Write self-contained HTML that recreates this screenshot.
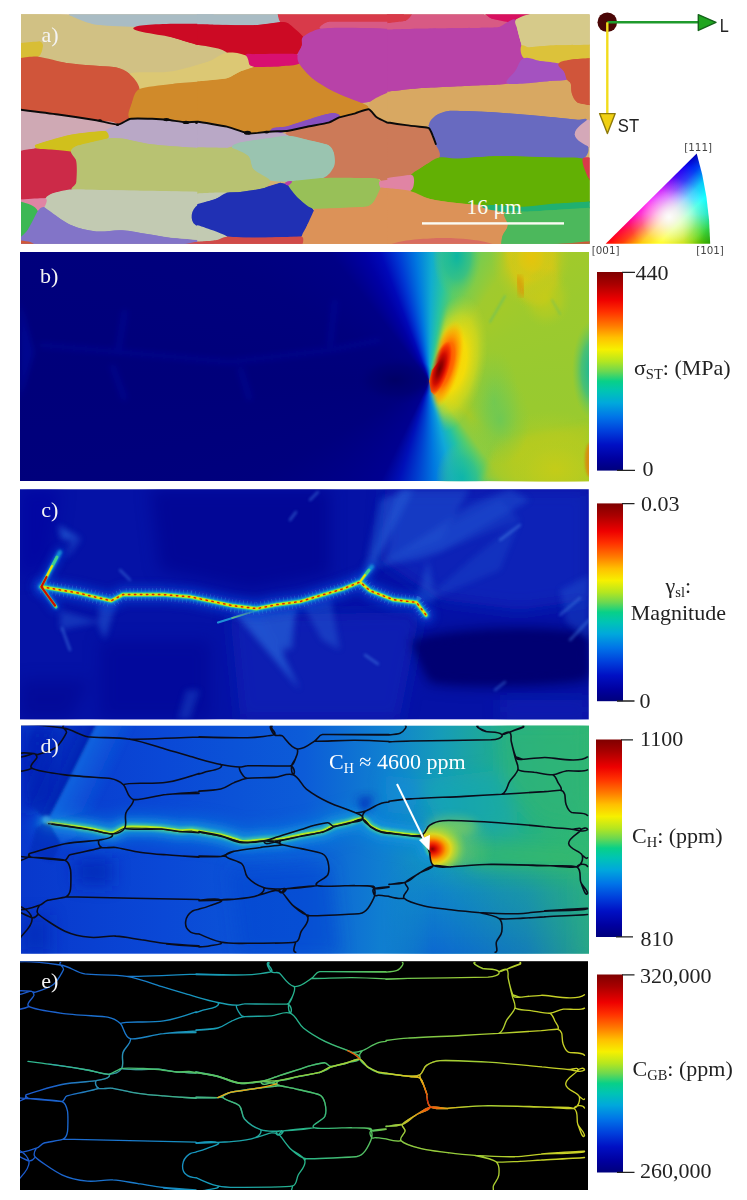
<!DOCTYPE html>
<html lang="en"><head><meta charset="utf-8"><title>Figure</title>
<style>
html,body{margin:0;padding:0;background:#fff;}
body{width:747px;height:1200px;overflow:hidden;position:relative;}
svg{position:absolute;left:0;top:0;display:block;}
.t{font-family:"Liberation Serif","Times New Roman",serif;font-size:22px;fill:#222;}
.sub{font-size:14.5px;}
.s{font-family:"Liberation Sans",Arial,sans-serif;font-size:18.5px;fill:#222;}
.m{font-family:"DejaVu Sans","Liberation Sans",sans-serif;font-size:10.3px;fill:#444;}
</style></head><body>
<div style="position:absolute;left:20px;top:252px;width:568.7px;height:229.4px;background:conic-gradient(from -38deg at 409.4px 129.1px,#000086 0deg,#0000a4 11deg,#0008b8 17deg,#0038d4 24deg,#0078e0 32deg,#10acd0 39deg,#28c4a0 46deg,#58cc68 53deg,#80cc48 62deg,#a0ca2e 72deg,#a2ca2a 83deg,#9cca2e 98deg,#98ca30 128deg,#9aca2e 156deg,#a4ca28 168deg,#8ccc40 181deg,#50cc70 188deg,#20c0a8 196deg,#10a8d8 205deg,#0078e0 215deg,#0040d0 225deg,#0010b8 235deg,#000090 244deg,#00007e 278deg,#00007a 308deg,#00007e 338deg,#000086 360deg);"></div>
<svg width="747" height="1200" viewBox="0 0 747 1200">
<defs>
<linearGradient id="jet" x1="0" y1="0" x2="0" y2="1"><stop offset="0" stop-color="#7f0000"/><stop offset="0.06" stop-color="#a80000"/><stop offset="0.14" stop-color="#ee0000"/><stop offset="0.2" stop-color="#ff3000"/><stop offset="0.27" stop-color="#ff7a00"/><stop offset="0.33" stop-color="#ffc000"/><stop offset="0.39" stop-color="#f6f000"/><stop offset="0.45" stop-color="#b4e620"/><stop offset="0.5" stop-color="#6cd850"/><stop offset="0.55" stop-color="#08d088"/><stop offset="0.6" stop-color="#00c4b4"/><stop offset="0.66" stop-color="#00a8dc"/><stop offset="0.73" stop-color="#0074e8"/><stop offset="0.8" stop-color="#0040dc"/><stop offset="0.87" stop-color="#0010c4"/><stop offset="0.94" stop-color="#0000a0"/><stop offset="1" stop-color="#00007c"/></linearGradient>
</defs>
<rect x="21" y="14.5" width="568.5" height="229.3" fill="#c9b27a"/>
<g id="pa">
<defs><clipPath id="ca"><rect x="21" y="14.5" width="568.5" height="229.3"/></clipPath></defs>
<g clip-path="url(#ca)">
<rect x="21" y="14.5" width="568.5" height="229.3" fill="#d4b070"/>
<path d="M20.0 14.0L69.6 15.3L93.8 24.2L135.7 26.7L172.6 37.4L198.0 45.0L213.3 49.6L213.3 82.7L172.6 83.9L139.5 89.0L129.4 73.8L116.6 67.4L70.9 63.6L37.8 56.7L42.9 45.8L39.8 41.5L20.0 43.2Z" fill="#d1c184" stroke="#d1c184" stroke-width="0.8" stroke-linejoin="round"/>
<path d="M129.4 73.8L172.6 71.2L213.3 59.8L213.3 80.6L172.6 83.9L139.5 89.0Z" fill="#dcc874" stroke="#dcc874" stroke-width="0.8" stroke-linejoin="round"/>
<path d="M69.6 12.7L69.6 15.3L93.8 24.2L135.7 26.7L213.3 24.2L213.3 12.7Z" fill="#a9bcc4" stroke="#a9bcc4" stroke-width="0.8" stroke-linejoin="round"/>
<path d="M135.7 26.7L213.3 24.2L213.3 49.6L198.0 45.0L172.6 37.4Z" fill="#cc0a24" stroke="#cc0a24" stroke-width="0.8" stroke-linejoin="round"/>
<path d="M18.7 43.2L39.8 41.5L42.9 45.8L38.3 56.7L18.7 58.5Z" fill="#d8be36" stroke="#d8be36" stroke-width="0.8" stroke-linejoin="round"/>
<path d="M18.7 58.5L38.3 56.7L70.9 63.6L116.6 67.4L129.4 73.8L139.5 89.0L131.9 103.0L130.6 118.8L117.9 124.6L96.3 120.3L58.1 114.5L18.7 109.4Z" fill="#d0553a" stroke="#d0553a" stroke-width="0.8" stroke-linejoin="round"/>
<path d="M139.5 89.0L172.6 83.9L213.3 80.6L213.3 123.9L185.3 122.1L167.5 119.5L130.6 118.8L131.9 103.0Z" fill="#d08a2a" stroke="#d08a2a" stroke-width="0.8" stroke-linejoin="round"/>
<path d="M18.7 109.4L58.1 114.5L96.3 120.3L117.9 124.6L105.2 131.0L70.9 134.8L35.3 145.0L34.0 148.8L18.7 151.3Z" fill="#cfa9b4" stroke="#cfa9b4" stroke-width="0.8" stroke-linejoin="round"/>
<path d="M117.9 124.6L130.6 118.8L167.5 119.5L185.3 122.1L213.3 123.9L213.3 149.3L172.6 146.2L147.2 143.7L121.7 138.6L107.7 138.6L105.2 131.0Z" fill="#b9a8c6" stroke="#b9a8c6" stroke-width="0.8" stroke-linejoin="round"/>
<path d="M35.3 145.0L70.9 134.8L105.2 131.0L107.7 138.6L76.0 146.2L70.9 151.8L37.8 148.8Z" fill="#d0c01c" stroke="#d0c01c" stroke-width="0.8" stroke-linejoin="round"/>
<path d="M18.7 151.3L35.3 148.8L70.9 151.8L76.5 161.5L76.5 181.9L72.1 189.5L53.1 193.3L45.4 198.4L18.7 199.7Z" fill="#cc2a48" stroke="#cc2a48" stroke-width="0.8" stroke-linejoin="round"/>
<path d="M107.7 138.6L121.7 138.6L147.2 143.7L172.6 146.2L213.3 148.8L213.3 192.5L72.1 189.5L76.5 181.9L76.5 161.5L70.9 151.8L76.0 146.2Z" fill="#b8c272" stroke="#b8c272" stroke-width="0.8" stroke-linejoin="round"/>
<path d="M72.1 189.5L213.3 192.0L213.3 240.9L172.6 237.8L147.2 234.0L121.7 230.2L96.3 231.4L70.9 225.1L44.2 207.3L45.4 198.4L53.1 193.3Z" fill="#c2cab2" stroke="#c2cab2" stroke-width="0.8" stroke-linejoin="round"/>
<path d="M18.7 199.7L45.4 198.4L44.2 207.3L37.8 211.1L18.7 201.7Z" fill="#e084a4" stroke="#e084a4" stroke-width="0.8" stroke-linejoin="round"/>
<path d="M18.7 201.2L37.8 211.1L27.6 230.2L18.7 239.1Z" fill="#3cb854" stroke="#3cb854" stroke-width="0.8" stroke-linejoin="round"/>
<path d="M37.8 211.1L44.2 207.3L70.9 225.1L96.3 231.4L121.7 230.2L147.2 234.0L172.6 238.3L213.3 241.6L213.3 246.7L18.7 246.7L18.7 239.1L27.6 230.2Z" fill="#8274c8" stroke="#8274c8" stroke-width="0.8" stroke-linejoin="round"/>
<path d="M213.3 199.7L198.0 204.7L191.7 214.9L195.5 225.1L213.3 230.7Z" fill="#2030b4" stroke="#2030b4" stroke-width="0.8" stroke-linejoin="round"/>
<path d="M18.7 240.3L30.2 242.1L37.8 246.7L18.7 246.7Z" fill="#d05838" stroke="#d05838" stroke-width="0.8" stroke-linejoin="round"/>
<path d="M180.2 245.4L192.9 242.4L213.3 240.3L213.3 246.7L180.2 246.7Z" fill="#d04a48" stroke="#d04a48" stroke-width="0.8" stroke-linejoin="round"/>
<path d="M197.3 80.9L226.8 78.3L240.2 71.6L253.5 67.0L280.3 66.2L299.1 63.5L312.4 78.3L333.9 91.6L360.6 102.4L368.7 109.0L355.3 113.1L339.8 116.8L333.9 113.1L320.5 115.7L307.1 120.0L288.4 125.9L270.1 131.8L248.2 133.1L226.8 126.4L197.3 120.6Z" fill="#d08a2a" stroke="#d08a2a" stroke-width="0.8" stroke-linejoin="round"/>
<path d="M197.3 12.7L277.6 12.7L277.6 15.3L280.3 22.0L253.5 25.2L197.3 24.2Z" fill="#a9bcc4" stroke="#a9bcc4" stroke-width="0.8" stroke-linejoin="round"/>
<path d="M277.6 12.7L403.5 12.7L403.5 22.6L328.5 22.0L320.5 28.7L303.1 36.8L288.4 23.4L280.3 22.0Z" fill="#d83a4a" stroke="#d83a4a" stroke-width="0.8" stroke-linejoin="round"/>
<path d="M328.5 22.0L403.5 22.0L403.5 29.5L360.6 27.9L320.5 28.7Z" fill="#d85a84" stroke="#d85a84" stroke-width="0.8" stroke-linejoin="round"/>
<path d="M197.3 24.7L253.5 25.2L280.3 22.0L288.4 23.4L303.1 36.8L301.7 46.1L296.4 54.2L253.5 54.2L245.5 55.5L226.8 52.8L197.3 45.1Z" fill="#cc0a24" stroke="#cc0a24" stroke-width="0.8" stroke-linejoin="round"/>
<path d="M245.5 55.5L253.5 54.2L296.4 54.2L299.1 63.5L280.3 66.2L253.5 67.0L249.5 64.9Z" fill="#d81070" stroke="#d81070" stroke-width="0.8" stroke-linejoin="round"/>
<path d="M197.3 45.1L226.8 52.8L209.9 61.1L197.3 65.4Z" fill="#d1c184" stroke="#d1c184" stroke-width="0.8" stroke-linejoin="round"/>
<path d="M197.3 64.9L209.9 61.1L226.8 52.8L245.5 55.5L249.5 64.9L253.5 67.0L240.2 71.6L226.8 78.3L197.3 81.5Z" fill="#dcc874" stroke="#dcc874" stroke-width="0.8" stroke-linejoin="round"/>
<path d="M303.1 36.8L320.5 28.7L360.6 27.9L403.5 29.5L403.5 90.3L387.4 93.0L371.4 101.0L360.6 102.4L333.9 91.6L312.4 78.3L299.1 63.5L297.7 54.2L301.7 46.1Z" fill="#b842a8" stroke="#b842a8" stroke-width="0.8" stroke-linejoin="round"/>
<path d="M270.1 131.8L288.4 125.9L307.1 120.0L320.5 115.7L333.9 113.1L339.8 116.8L328.5 122.7L307.1 127.0L288.4 131.0Z" fill="#8850c0" stroke="#8850c0" stroke-width="0.8" stroke-linejoin="round"/>
<path d="M368.7 109.0L371.4 101.0L387.4 93.0L403.5 90.3L403.5 124.8L387.4 122.4L376.7 117.1Z" fill="#d8a862" stroke="#d8a862" stroke-width="0.8" stroke-linejoin="round"/>
<path d="M285.7 133.7L288.4 131.0L307.1 127.0L328.5 123.0L339.2 117.6L355.3 113.6L368.7 109.6L376.7 117.6L387.4 123.0L403.5 125.4L403.5 178.7L382.1 181.3L379.4 178.7L360.6 177.9L323.2 177.9L333.9 166.6L333.9 153.2L328.5 145.2L307.1 139.8L288.4 135.8Z" fill="#cc7a58" stroke="#cc7a58" stroke-width="0.8" stroke-linejoin="round"/>
<path d="M197.3 121.1L226.8 127.0L248.2 133.7L272.3 131.8L285.7 134.2L288.4 135.8L266.9 138.5L240.2 142.5L226.8 147.9L197.3 147.9Z" fill="#b9a8c6" stroke="#b9a8c6" stroke-width="0.8" stroke-linejoin="round"/>
<path d="M232.1 147.9L240.2 142.5L266.9 138.5L288.4 135.8L307.1 139.8L328.5 145.2L333.9 153.2L333.9 166.6L323.2 177.9L288.4 181.3L269.6 180.0L253.5 169.3L248.2 155.9Z" fill="#9ac4b0" stroke="#9ac4b0" stroke-width="0.8" stroke-linejoin="round"/>
<path d="M197.3 147.3L226.8 147.9L232.1 147.9L248.2 155.9L253.5 169.3L269.6 180.0L264.3 188.0L240.2 192.0L197.3 193.9Z" fill="#b8c272" stroke="#b8c272" stroke-width="0.8" stroke-linejoin="round"/>
<path d="M197.3 193.4L226.8 192.8L216.1 198.7L197.3 204.6Z" fill="#c2cab2" stroke="#c2cab2" stroke-width="0.8" stroke-linejoin="round"/>
<path d="M197.3 204.1L216.1 198.7L226.8 192.8L240.2 192.0L264.3 188.0L280.3 183.2L288.4 185.4L299.1 198.7L313.8 210.8L307.1 225.5L301.7 236.2L253.5 237.6L226.8 236.2L197.3 225.0Z" fill="#2030b4" stroke="#2030b4" stroke-width="0.8" stroke-linejoin="round"/>
<path d="M288.4 185.4L292.4 181.3L323.2 178.1L360.6 178.1L378.0 179.2L380.7 188.0L374.0 201.4L366.0 206.8L315.1 208.9L299.1 198.7Z" fill="#98c058" stroke="#98c058" stroke-width="0.8" stroke-linejoin="round"/>
<path d="M379.9 181.3L403.5 178.1L403.5 189.9L384.7 188.0L380.7 188.0Z" fill="#e084a4" stroke="#e084a4" stroke-width="0.8" stroke-linejoin="round"/>
<path d="M313.8 210.8L315.1 208.9L366.0 206.8L374.0 201.4L380.7 188.0L384.7 188.0L403.5 189.4L403.5 246.9L301.7 246.9L301.7 236.2L307.1 225.5Z" fill="#dc9258" stroke="#dc9258" stroke-width="0.8" stroke-linejoin="round"/>
<path d="M197.3 225.0L226.8 236.2L216.1 240.2L197.3 242.1Z" fill="#c2cab2" stroke="#c2cab2" stroke-width="0.8" stroke-linejoin="round"/>
<path d="M197.3 241.6L216.1 240.2L226.8 236.8L253.5 237.8L301.7 236.8L301.7 246.9L197.3 246.9Z" fill="#d04a48" stroke="#d04a48" stroke-width="0.8" stroke-linejoin="round"/>
<path d="M285.1 183.2L290.0 181.1L292.1 182.1L288.4 185.4Z" fill="#b842a8" stroke="#b842a8" stroke-width="0.8" stroke-linejoin="round"/>
<path d="M387.3 91.6L416.8 88.4L470.3 85.8L507.8 83.6L550.6 80.9L566.7 79.6L570.7 83.6L572.1 94.3L577.4 102.4L593.5 105.6L593.5 120.3L577.4 119.8L550.6 117.1L497.1 112.5L448.9 110.9L435.5 115.7L428.8 125.1L416.8 126.4L387.3 122.4Z" fill="#d8a862" stroke="#d8a862" stroke-width="0.8" stroke-linejoin="round"/>
<path d="M387.3 12.7L411.4 12.7L411.4 15.6L406.1 20.7L387.3 23.6Z" fill="#d83a4a" stroke="#d83a4a" stroke-width="0.8" stroke-linejoin="round"/>
<path d="M387.3 23.1L406.1 20.7L411.4 15.6L411.4 12.7L483.7 12.7L483.7 14.5L491.7 18.8L507.8 22.0L497.1 27.4L416.8 28.7L387.3 30.1Z" fill="#d85a84" stroke="#d85a84" stroke-width="0.8" stroke-linejoin="round"/>
<path d="M483.7 12.7L529.2 12.7L529.2 14.5L515.8 19.4L507.8 22.0L491.7 18.6Z" fill="#d81060" stroke="#d81060" stroke-width="0.8" stroke-linejoin="round"/>
<path d="M387.3 29.5L416.8 28.7L497.1 27.4L507.8 22.0L515.8 19.9L517.2 28.7L521.2 46.1L523.9 58.2L515.8 70.2L507.8 83.6L470.3 85.8L416.8 88.4L387.3 91.6Z" fill="#b842a8" stroke="#b842a8" stroke-width="0.8" stroke-linejoin="round"/>
<path d="M515.8 19.9L529.2 14.0L529.2 12.7L593.5 12.7L593.5 45.1L550.6 45.6L529.2 47.5L522.5 46.4L517.2 28.7Z" fill="#d6ca8a" stroke="#d6ca8a" stroke-width="0.8" stroke-linejoin="round"/>
<path d="M521.2 46.1L529.2 47.5L550.6 45.6L593.5 44.8L593.5 58.4L572.1 59.5L558.7 63.5L539.9 60.9L523.9 58.2Z" fill="#dcc23a" stroke="#dcc23a" stroke-width="0.8" stroke-linejoin="round"/>
<path d="M523.9 58.2L539.9 60.9L558.7 63.5L564.0 71.6L566.7 79.6L550.6 80.9L507.8 83.6L515.8 70.2Z" fill="#a452c0" stroke="#a452c0" stroke-width="0.8" stroke-linejoin="round"/>
<path d="M558.7 63.5L572.1 59.5L593.5 58.2L593.5 105.6L577.4 102.4L572.1 94.3L570.7 83.6L566.7 79.6L564.0 71.6Z" fill="#d0553a" stroke="#d0553a" stroke-width="0.8" stroke-linejoin="round"/>
<path d="M428.8 125.1L435.5 115.7L448.9 110.9L497.1 112.5L550.6 117.1L577.4 119.8L586.8 120.3L574.7 134.5L588.1 146.5L582.8 158.6L550.6 157.2L497.1 155.9L456.9 158.6L439.5 157.2L435.5 143.9L432.8 135.8Z" fill="#686ac0" stroke="#686ac0" stroke-width="0.8" stroke-linejoin="round"/>
<path d="M586.8 120.3L593.5 119.8L593.5 149.2L588.1 146.5L574.7 134.5Z" fill="#d4a8b8" stroke="#d4a8b8" stroke-width="0.8" stroke-linejoin="round"/>
<path d="M387.3 123.0L419.5 127.0L428.8 128.3L432.8 135.8L435.5 143.9L439.5 157.2L424.8 165.3L411.4 174.6L387.3 177.3Z" fill="#cc7a58" stroke="#cc7a58" stroke-width="0.8" stroke-linejoin="round"/>
<path d="M439.5 157.5L456.9 158.8L497.1 156.2L550.6 157.5L582.8 158.8L586.8 174.6L593.5 185.4L593.5 202.0L550.6 204.4L523.9 207.0L483.7 205.7L456.9 203.0L430.2 199.0L410.1 191.0L414.1 181.3L411.4 174.6L424.8 165.5Z" fill="#62b004" stroke="#62b004" stroke-width="0.8" stroke-linejoin="round"/>
<path d="M387.3 177.9L411.4 174.9L414.1 181.3L410.1 191.0L387.3 188.3Z" fill="#e084a4" stroke="#e084a4" stroke-width="0.8" stroke-linejoin="round"/>
<path d="M387.3 188.3L410.1 191.0L430.2 199.0L456.9 203.0L483.7 205.7L505.1 212.1L507.8 225.5L502.4 236.2L501.1 246.9L387.3 246.9Z" fill="#dc9258" stroke="#dc9258" stroke-width="0.8" stroke-linejoin="round"/>
<path d="M505.1 212.1L483.7 205.7L523.9 206.8L550.6 204.1L593.5 201.4L593.5 207.8L550.6 210.3L529.2 211.6Z" fill="#20b070" stroke="#20b070" stroke-width="0.8" stroke-linejoin="round"/>
<path d="M505.1 212.4L529.2 211.6L550.6 210.3L593.5 207.6L593.5 246.9L501.1 246.9L502.4 236.2L507.8 225.5Z" fill="#4cb85c" stroke="#4cb85c" stroke-width="0.8" stroke-linejoin="round"/>
<path d="M582.8 158.8L593.5 158.3L593.5 185.9L586.8 174.6Z" fill="#d83a4a" stroke="#d83a4a" stroke-width="0.8" stroke-linejoin="round"/>
<path d="M550.6 244.5L572.1 242.9L593.5 241.0L593.5 246.9L550.6 246.9Z" fill="#d05838" stroke="#d05838" stroke-width="0.8" stroke-linejoin="round"/>
<path d="M388.9 244.8L406.1 240.5L430.2 238.4L456.9 238.4L478.4 240.5L495.0 244.8Z" fill="#d86c60" stroke="#d86c60" stroke-width="0.8" stroke-linejoin="round"/>
<path d="M20.0 14.0C29.0 8.9 60.6 14.0 69.6 15.3C78.6 16.5 84.8 22.6 93.8 24.2C102.7 25.7 122.4 24.5 135.7 26.7C149.0 29.0 163.6 34.8 172.6 37.4C181.6 40.0 192.7 43.4 198.0 45.0C203.4 46.6 213.3 49.6 213.3 49.6C213.3 49.6 213.3 82.7 213.3 82.7C213.3 82.7 184.3 82.9 172.6 83.9C160.9 85.0 145.8 90.5 139.5 89.0C133.2 87.5 133.0 77.2 129.4 73.8C125.7 70.3 121.6 68.3 116.6 67.4C111.7 66.6 82.6 65.2 70.9 63.6C59.1 62.0 41.4 59.0 37.8 56.7C34.2 54.4 42.6 47.6 42.9 45.8C43.1 43.9 41.7 41.7 39.8 41.5C38.0 41.3 24.1 48.9 20.0 43.2C15.9 37.6 11.0 19.1 20.0 14.0Z" fill="#d1c184"/>
<path d="M129.4 73.8C135.0 70.7 157.9 73.7 172.6 71.2C187.3 68.8 213.3 59.8 213.3 59.8C213.3 59.8 213.3 80.6 213.3 80.6C213.3 80.6 184.3 82.6 172.6 83.9C160.9 85.3 145.8 90.5 139.5 89.0C133.2 87.5 123.7 76.8 129.4 73.8Z" fill="#dcc874"/>
<path d="M69.6 12.7C69.6 12.7 68.8 14.9 69.6 15.3C70.4 15.7 84.8 22.6 93.8 24.2C102.7 25.7 120.9 26.7 135.7 26.7C150.5 26.7 213.3 24.2 213.3 24.2C213.3 24.2 213.3 12.7 213.3 12.7C213.3 12.7 69.6 12.7 69.6 12.7Z" fill="#a9bcc4"/>
<path d="M135.7 26.7C148.6 22.5 213.3 24.2 213.3 24.2C213.3 24.2 213.3 49.6 213.3 49.6C213.3 49.6 203.4 46.6 198.0 45.0C192.7 43.4 181.6 40.0 172.6 37.4C163.6 34.8 122.9 30.9 135.7 26.7Z" fill="#cc0a24"/>
<path d="M18.7 43.2C18.7 43.2 38.0 41.3 39.8 41.5C41.7 41.7 43.1 43.9 42.9 45.8C42.7 47.6 42.0 54.8 38.3 56.7C34.6 58.7 18.7 58.5 18.7 58.5C18.7 58.5 18.7 43.2 18.7 43.2Z" fill="#d8be36"/>
<path d="M18.7 58.5C18.7 58.5 31.4 56.1 38.3 56.7C45.2 57.4 59.3 62.0 70.9 63.6C82.5 65.2 111.7 66.6 116.6 67.4C121.6 68.3 125.7 70.3 129.4 73.8C133.0 77.2 139.0 83.4 139.5 89.0C140.0 94.6 133.5 97.7 131.9 103.0C130.3 108.3 133.3 114.6 130.6 118.8C128.0 122.9 122.8 124.4 117.9 124.6C113.0 124.8 103.9 121.6 96.3 120.3C88.6 119.0 71.6 116.4 58.1 114.5C44.7 112.6 18.7 109.4 18.7 109.4C18.7 109.4 18.7 58.5 18.7 58.5Z" fill="#d0553a"/>
<path d="M139.5 89.0C144.6 86.6 160.9 85.3 172.6 83.9C184.3 82.6 213.3 80.6 213.3 80.6C213.3 80.6 213.3 123.9 213.3 123.9C213.3 123.9 191.6 122.7 185.3 122.1C179.0 121.5 173.8 119.9 167.5 119.5C161.2 119.2 135.7 121.1 130.6 118.8C125.6 116.4 130.3 108.3 131.9 103.0C133.5 97.7 134.5 91.4 139.5 89.0Z" fill="#d08a2a"/>
<path d="M18.7 109.4C18.7 109.4 44.7 112.6 58.1 114.5C71.6 116.4 88.6 119.0 96.3 120.3C103.9 121.6 114.7 120.8 117.9 124.6C121.1 128.5 110.1 129.9 105.2 131.0C100.3 132.0 82.8 132.4 70.9 134.8C58.9 137.2 36.6 144.5 35.3 145.0C33.9 145.5 35.3 148.3 34.0 148.8C32.7 149.3 18.7 151.3 18.7 151.3C18.7 151.3 18.7 109.4 18.7 109.4Z" fill="#cfa9b4"/>
<path d="M117.9 124.6C122.4 122.5 125.7 119.3 130.6 118.8C135.5 118.3 161.2 119.2 167.5 119.5C173.8 119.9 179.0 121.5 185.3 122.1C191.6 122.7 213.3 123.9 213.3 123.9C213.3 123.9 213.3 149.3 213.3 149.3C213.3 149.3 181.6 147.0 172.6 146.2C163.6 145.5 156.1 145.0 147.2 143.7C138.3 142.4 126.6 139.2 121.7 138.6C116.8 138.0 110.3 139.8 107.7 138.6C105.2 137.4 103.5 133.3 105.2 131.0C106.9 128.7 113.5 126.8 117.9 124.6Z" fill="#b9a8c6"/>
<path d="M35.3 145.0C36.7 144.3 58.9 137.2 70.9 134.8C82.8 132.4 102.4 130.7 105.2 131.0C108.0 131.3 110.3 137.3 107.7 138.6C105.2 139.9 78.5 145.3 76.0 146.2C73.4 147.1 73.5 151.7 70.9 151.8C68.2 152.0 39.4 149.1 37.8 148.8C36.2 148.5 33.8 145.6 35.3 145.0Z" fill="#d0c01c"/>
<path d="M18.7 151.3C18.7 151.3 29.4 148.7 35.3 148.8C41.1 148.8 67.1 150.7 70.9 151.8C74.6 153.0 75.7 157.6 76.5 161.5C77.2 165.4 76.9 178.8 76.5 181.9C76.0 184.9 74.9 188.1 72.1 189.5C69.4 190.8 56.1 192.3 53.1 193.3C50.0 194.3 48.6 197.8 45.4 198.4C42.3 199.0 18.7 199.7 18.7 199.7C18.7 199.7 18.7 151.3 18.7 151.3Z" fill="#cc2a48"/>
<path d="M107.7 138.6C112.6 137.8 116.8 138.0 121.7 138.6C126.6 139.2 138.3 142.4 147.2 143.7C156.1 145.0 163.6 145.6 172.6 146.2C181.6 146.9 213.3 148.8 213.3 148.8C213.3 148.8 213.3 192.5 213.3 192.5C213.3 192.5 75.2 189.7 72.1 189.5C69.1 189.2 76.0 184.9 76.5 181.9C76.9 178.8 77.2 165.4 76.5 161.5C75.7 157.6 71.0 154.5 70.9 151.8C70.8 149.2 73.4 147.1 76.0 146.2C78.5 145.3 102.9 139.4 107.7 138.6Z" fill="#b8c272"/>
<path d="M72.1 189.5C79.0 189.4 213.3 192.0 213.3 192.0C213.3 192.0 213.3 240.9 213.3 240.9C213.3 240.9 181.6 238.7 172.6 237.8C163.6 236.9 156.1 235.3 147.2 234.0C138.2 232.6 130.7 230.6 121.7 230.2C112.8 229.7 105.2 232.3 96.3 231.4C87.4 230.6 79.2 229.0 70.9 225.1C62.5 221.2 46.3 209.6 44.2 207.3C42.0 205.0 43.7 201.1 45.4 198.4C47.1 195.7 50.0 194.3 53.1 193.3C56.1 192.3 65.3 189.5 72.1 189.5Z" fill="#c2cab2"/>
<path d="M18.7 199.7C18.7 199.7 42.4 197.5 45.4 198.4C48.5 199.3 45.5 205.0 44.2 207.3C42.8 209.5 40.4 211.7 37.8 211.1C35.3 210.5 18.7 201.7 18.7 201.7C18.7 201.7 18.7 199.7 18.7 199.7Z" fill="#e084a4"/>
<path d="M18.7 201.2C18.7 201.2 35.6 203.9 37.8 211.1C40.0 218.3 30.1 226.5 27.6 230.2C25.1 233.8 18.7 239.1 18.7 239.1C18.7 239.1 18.7 201.2 18.7 201.2Z" fill="#3cb854"/>
<path d="M37.8 211.1C39.3 209.0 41.8 206.3 44.2 207.3C46.6 208.3 62.5 221.2 70.9 225.1C79.2 229.0 87.4 230.6 96.3 231.4C105.2 232.3 112.8 229.7 121.7 230.2C130.7 230.6 138.2 232.6 147.2 234.0C156.1 235.4 163.6 237.3 172.6 238.3C181.6 239.4 213.3 241.6 213.3 241.6C213.3 241.6 213.3 246.7 213.3 246.7C213.3 246.7 18.7 246.7 18.7 246.7C18.7 246.7 18.7 239.1 18.7 239.1C18.7 239.1 25.1 233.8 27.6 230.2C30.1 226.5 36.3 213.2 37.8 211.1Z" fill="#8274c8"/>
<path d="M213.3 199.7C213.3 199.7 201.5 202.3 198.0 204.7C194.6 207.2 192.1 211.1 191.7 214.9C191.2 218.7 192.4 222.8 195.5 225.1C198.6 227.3 213.3 230.7 213.3 230.7C213.3 230.7 213.3 199.7 213.3 199.7Z" fill="#2030b4"/>
<path d="M18.7 240.3C18.7 240.3 27.2 241.1 30.2 242.1C33.1 243.1 37.8 246.7 37.8 246.7C37.8 246.7 18.7 246.7 18.7 246.7C18.7 246.7 18.7 240.3 18.7 240.3Z" fill="#d05838"/>
<path d="M180.2 245.4C180.2 245.4 188.4 243.1 192.9 242.4C197.5 241.7 213.3 240.3 213.3 240.3C213.3 240.3 213.3 246.7 213.3 246.7C213.3 246.7 180.2 246.7 180.2 246.7C180.2 246.7 180.2 245.4 180.2 245.4Z" fill="#d04a48"/>
<path d="M197.3 80.9C197.3 80.9 221.6 79.4 226.8 78.3C231.9 77.1 235.6 73.5 240.2 71.6C244.7 69.6 248.6 67.7 253.5 67.0C258.5 66.4 273.7 66.7 280.3 66.2C287.0 65.7 292.8 61.2 299.1 63.5C305.3 65.9 307.0 73.9 312.4 78.3C317.9 82.7 325.9 87.7 333.9 91.6C341.8 95.6 357.4 100.7 360.6 102.4C363.9 104.0 370.3 105.8 368.7 109.0C367.0 112.3 360.0 111.8 355.3 113.1C350.5 114.3 342.2 116.8 339.8 116.8C337.3 116.8 336.3 113.2 333.9 113.1C331.4 112.9 325.1 114.5 320.5 115.7C315.8 116.9 311.8 118.5 307.1 120.0C302.4 121.5 294.8 123.9 288.4 125.9C281.9 128.0 276.8 130.6 270.1 131.8C263.5 133.0 255.9 134.1 248.2 133.1C240.5 132.2 234.4 128.3 226.8 126.4C219.1 124.6 197.3 120.6 197.3 120.6C197.3 120.6 197.3 80.9 197.3 80.9Z" fill="#d08a2a"/>
<path d="M197.3 12.7C197.3 12.7 277.6 12.7 277.6 12.7C277.6 12.7 277.4 14.4 277.6 15.3C277.9 16.2 282.7 21.1 280.3 22.0C278.0 23.0 263.0 25.0 253.5 25.2C244.1 25.5 197.3 24.2 197.3 24.2C197.3 24.2 197.3 12.7 197.3 12.7Z" fill="#a9bcc4"/>
<path d="M277.6 12.7C277.6 12.7 403.5 12.7 403.5 12.7C403.5 12.7 403.5 22.6 403.5 22.6C403.5 22.6 332.2 21.8 328.5 22.0C324.8 22.3 323.7 26.9 320.5 28.7C317.3 30.6 309.7 37.9 303.1 36.8C296.4 35.6 290.8 24.9 288.4 23.4C285.9 21.8 282.3 24.1 280.3 22.0C278.3 20.0 277.6 12.7 277.6 12.7Z" fill="#d83a4a"/>
<path d="M328.5 22.0C332.2 21.7 403.5 22.0 403.5 22.0C403.5 22.0 403.5 29.5 403.5 29.5C403.5 29.5 374.8 28.1 360.6 27.9C346.5 27.8 324.1 29.4 320.5 28.7C316.9 28.1 324.8 22.3 328.5 22.0Z" fill="#d85a84"/>
<path d="M197.3 24.7C197.3 24.7 244.1 25.6 253.5 25.2C263.0 24.9 277.5 22.2 280.3 22.0C283.2 21.9 285.9 21.8 288.4 23.4C290.8 24.9 301.4 33.9 303.1 36.8C304.8 39.6 302.9 43.0 301.7 46.1C300.5 49.2 299.7 53.6 296.4 54.2C293.0 54.7 256.4 54.1 253.5 54.2C250.7 54.2 248.4 55.6 245.5 55.5C242.7 55.4 233.3 54.2 226.8 52.8C220.3 51.4 197.3 45.1 197.3 45.1C197.3 45.1 197.3 24.7 197.3 24.7Z" fill="#cc0a24"/>
<path d="M245.5 55.5C246.5 52.8 250.7 54.2 253.5 54.2C256.4 54.1 293.0 53.5 296.4 54.2C299.7 54.9 301.8 61.5 299.1 63.5C296.3 65.6 287.0 65.7 280.3 66.2C273.7 66.7 255.1 67.1 253.5 67.0C251.9 66.9 250.4 66.2 249.5 64.9C248.6 63.6 244.5 58.2 245.5 55.5Z" fill="#d81070"/>
<path d="M197.3 45.1C197.3 45.1 222.7 47.6 226.8 52.8C230.9 58.0 214.2 59.3 209.9 61.1C205.6 63.0 197.3 65.4 197.3 65.4C197.3 65.4 197.3 45.1 197.3 45.1Z" fill="#d1c184"/>
<path d="M197.3 64.9C197.3 64.9 205.6 62.9 209.9 61.1C214.2 59.4 220.2 53.9 226.8 52.8C233.3 51.8 242.3 53.8 245.5 55.5C248.7 57.2 248.6 63.6 249.5 64.9C250.4 66.2 254.9 66.1 253.5 67.0C252.2 67.9 244.7 69.6 240.2 71.6C235.6 73.5 231.9 77.1 226.8 78.3C221.6 79.4 197.3 81.5 197.3 81.5C197.3 81.5 197.3 64.9 197.3 64.9Z" fill="#dcc874"/>
<path d="M303.1 36.8C305.5 34.5 313.8 29.7 320.5 28.7C327.2 27.7 346.5 27.8 360.6 27.9C374.8 28.1 403.5 29.5 403.5 29.5C403.5 29.5 403.5 90.3 403.5 90.3C403.5 90.3 392.9 91.2 387.4 93.0C382.0 94.8 374.9 99.8 371.4 101.0C367.8 102.3 364.3 103.3 360.6 102.4C357.0 101.4 341.8 95.6 333.9 91.6C325.9 87.7 317.9 82.7 312.4 78.3C307.0 73.9 300.8 66.4 299.1 63.5C297.3 60.7 297.2 57.3 297.7 54.2C298.2 51.0 300.8 49.1 301.7 46.1C302.7 43.1 300.6 39.0 303.1 36.8Z" fill="#b842a8"/>
<path d="M270.1 131.8C270.1 125.4 281.9 128.0 288.4 125.9C294.8 123.9 302.4 121.5 307.1 120.0C311.8 118.5 315.8 116.9 320.5 115.7C325.1 114.5 331.4 112.9 333.9 113.1C336.3 113.2 341.0 114.7 339.8 116.8C338.6 119.0 332.8 121.4 328.5 122.7C324.2 124.0 313.7 125.6 307.1 127.0C300.5 128.4 294.7 130.2 288.4 131.0C282.0 131.8 270.1 138.2 270.1 131.8Z" fill="#8850c0"/>
<path d="M368.7 109.0C367.7 106.2 369.1 103.0 371.4 101.0C373.6 99.1 382.0 94.8 387.4 93.0C392.9 91.2 403.5 90.3 403.5 90.3C403.5 90.3 403.5 124.8 403.5 124.8C403.5 124.8 391.5 123.6 387.4 122.4C383.4 121.3 380.0 119.4 376.7 117.1C373.5 114.8 369.6 111.9 368.7 109.0Z" fill="#d8a862"/>
<path d="M285.7 133.7C285.7 132.5 287.1 131.4 288.4 131.0C289.6 130.6 300.5 128.3 307.1 127.0C313.7 125.7 324.5 124.1 328.5 123.0C332.6 121.8 335.2 119.0 339.2 117.6C343.2 116.2 350.5 114.9 355.3 113.6C360.0 112.3 364.7 108.8 368.7 109.6C372.6 110.3 373.5 115.3 376.7 117.6C380.0 119.9 383.4 121.8 387.4 123.0C391.5 124.1 403.5 125.4 403.5 125.4C403.5 125.4 403.5 178.7 403.5 178.7C403.5 178.7 383.4 181.3 382.1 181.3C380.7 181.3 380.7 178.9 379.4 178.7C378.1 178.4 367.2 177.9 360.6 177.9C354.0 177.8 328.2 180.0 323.2 177.9C318.1 175.7 332.0 170.9 333.9 166.6C335.7 162.3 334.7 156.5 333.9 153.2C333.0 149.9 331.6 146.7 328.5 145.2C325.5 143.7 313.7 141.4 307.1 139.8C300.5 138.3 289.5 136.2 288.4 135.8C287.2 135.5 285.7 134.9 285.7 133.7Z" fill="#cc7a58"/>
<path d="M197.3 121.1C197.3 121.1 219.1 125.1 226.8 127.0C234.4 128.9 240.3 132.8 248.2 133.7C256.0 134.5 267.5 131.7 272.3 131.8C277.1 131.9 284.6 133.9 285.7 134.2C286.7 134.5 289.4 135.6 288.4 135.8C287.3 136.1 274.5 137.5 266.9 138.5C259.4 139.5 245.1 141.4 240.2 142.5C235.2 143.7 231.8 147.2 226.8 147.9C221.7 148.5 197.3 147.9 197.3 147.9C197.3 147.9 197.3 121.1 197.3 121.1Z" fill="#b9a8c6"/>
<path d="M232.1 147.9C230.4 145.0 236.9 143.4 240.2 142.5C243.4 141.6 259.4 139.5 266.9 138.5C274.5 137.5 281.6 135.6 288.4 135.8C295.1 136.0 300.5 138.3 307.1 139.8C313.7 141.4 325.5 143.7 328.5 145.2C331.6 146.7 333.0 149.9 333.9 153.2C334.7 156.5 335.7 162.3 333.9 166.6C332.0 170.9 328.4 176.2 323.2 177.9C318.0 179.5 295.0 181.1 288.4 181.3C281.7 181.6 275.9 182.2 269.6 180.0C263.4 177.8 256.9 173.1 253.5 169.3C250.2 165.5 251.8 159.5 248.2 155.9C244.6 152.3 233.9 150.8 232.1 147.9Z" fill="#9ac4b0"/>
<path d="M197.3 147.3C197.3 147.3 224.9 147.8 226.8 147.9C228.7 147.9 230.4 147.2 232.1 147.9C233.9 148.5 244.6 152.3 248.2 155.9C251.8 159.5 250.2 165.5 253.5 169.3C256.9 173.1 267.9 177.0 269.6 180.0C271.3 182.9 267.4 186.7 264.3 188.0C261.1 189.3 248.7 191.3 240.2 192.0C231.6 192.8 197.3 193.9 197.3 193.9C197.3 193.9 197.3 147.3 197.3 147.3Z" fill="#b8c272"/>
<path d="M197.3 193.4C197.3 193.4 222.6 191.7 226.8 192.8C230.9 194.0 220.1 197.1 216.1 198.7C212.1 200.3 197.3 204.6 197.3 204.6C197.3 204.6 197.3 193.4 197.3 193.4Z" fill="#c2cab2"/>
<path d="M197.3 204.1C197.3 204.1 212.0 200.3 216.1 198.7C220.1 197.2 222.6 194.0 226.8 192.8C230.9 191.7 235.5 192.6 240.2 192.0C244.8 191.4 258.5 189.3 264.3 188.0C270.0 186.8 277.4 183.5 280.3 183.2C283.2 182.9 286.1 183.5 288.4 185.4C290.6 187.2 294.8 194.5 299.1 198.7C303.3 203.0 312.2 205.3 313.8 210.8C315.4 216.2 308.9 221.7 307.1 225.5C305.3 229.3 305.9 235.3 301.7 236.2C297.6 237.1 263.0 237.6 253.5 237.6C244.1 237.6 236.0 238.3 226.8 236.2C217.6 234.2 197.3 225.0 197.3 225.0C197.3 225.0 197.3 204.1 197.3 204.1Z" fill="#2030b4"/>
<path d="M288.4 185.4C287.6 183.5 290.4 181.7 292.4 181.3C294.3 180.9 312.3 178.6 323.2 178.1C334.0 177.6 354.5 178.0 360.6 178.1C366.8 178.2 375.1 177.8 378.0 179.2C381.0 180.6 381.3 184.8 380.7 188.0C380.1 191.2 376.1 198.7 374.0 201.4C371.9 204.1 369.4 206.3 366.0 206.8C362.6 207.2 321.8 209.7 315.1 208.9C308.5 208.1 303.6 202.7 299.1 198.7C294.5 194.8 289.1 187.2 288.4 185.4Z" fill="#98c058"/>
<path d="M379.9 181.3C382.1 180.4 403.5 178.1 403.5 178.1C403.5 178.1 403.5 189.9 403.5 189.9C403.5 189.9 386.1 188.1 384.7 188.0C383.3 187.9 381.5 189.2 380.7 188.0C379.9 186.9 377.7 182.3 379.9 181.3Z" fill="#e084a4"/>
<path d="M313.8 210.8C314.1 210.1 314.3 209.0 315.1 208.9C315.9 208.9 362.6 207.2 366.0 206.8C369.4 206.3 371.9 204.1 374.0 201.4C376.1 198.7 379.8 189.1 380.7 188.0C381.6 186.9 383.3 187.9 384.7 188.0C386.2 188.1 403.5 189.4 403.5 189.4C403.5 189.4 403.5 246.9 403.5 246.9C403.5 246.9 301.7 246.9 301.7 246.9C301.7 246.9 300.8 239.9 301.7 236.2C302.7 232.6 305.3 229.3 307.1 225.5C308.9 221.7 313.4 211.5 313.8 210.8Z" fill="#dc9258"/>
<path d="M197.3 225.0C197.3 225.0 223.7 233.7 226.8 236.2C229.9 238.8 220.0 239.4 216.1 240.2C212.1 241.0 197.3 242.1 197.3 242.1C197.3 242.1 197.3 225.0 197.3 225.0Z" fill="#c2cab2"/>
<path d="M197.3 241.6C197.3 241.6 212.2 240.9 216.1 240.2C220.0 239.6 222.8 237.0 226.8 236.8C230.7 236.5 244.1 237.8 253.5 237.8C263.0 237.8 298.2 236.1 301.7 236.8C305.3 237.4 301.7 246.9 301.7 246.9C301.7 246.9 197.3 246.9 197.3 246.9C197.3 246.9 197.3 241.6 197.3 241.6Z" fill="#d04a48"/>
<path d="M285.1 183.2C285.6 181.9 289.1 181.2 290.0 181.1C290.8 180.9 292.4 181.3 292.1 182.1C291.8 182.9 289.7 185.1 288.4 185.4C287.0 185.6 284.7 184.5 285.1 183.2Z" fill="#b842a8"/>
<path d="M387.3 91.6C387.3 91.6 406.4 89.2 416.8 88.4C427.2 87.7 457.1 86.5 470.3 85.8C483.5 85.1 494.6 84.4 507.8 83.6C521.0 82.8 545.0 81.3 550.6 80.9C556.3 80.5 564.7 79.3 566.7 79.6C568.7 79.9 570.0 81.7 570.7 83.6C571.4 85.5 570.9 91.1 572.1 94.3C573.2 97.5 574.4 100.8 577.4 102.4C580.4 103.9 593.5 105.6 593.5 105.6C593.5 105.6 593.5 120.3 593.5 120.3C593.5 120.3 583.1 120.2 577.4 119.8C571.8 119.3 560.1 117.9 550.6 117.1C541.2 116.2 514.0 113.6 497.1 112.5C480.2 111.5 453.9 110.7 448.9 110.9C443.9 111.2 438.8 113.4 435.5 115.7C432.2 118.1 432.3 123.1 428.8 125.1C425.3 127.1 421.0 126.7 416.8 126.4C412.5 126.2 387.3 122.4 387.3 122.4C387.3 122.4 387.3 91.6 387.3 91.6Z" fill="#d8a862"/>
<path d="M387.3 12.7C387.3 12.7 411.4 12.7 411.4 12.7C411.4 12.7 412.0 14.7 411.4 15.6C410.8 16.5 408.5 19.9 406.1 20.7C403.6 21.5 387.3 23.6 387.3 23.6C387.3 23.6 387.3 12.7 387.3 12.7Z" fill="#d83a4a"/>
<path d="M387.3 23.1C387.3 23.1 403.6 21.5 406.1 20.7C408.5 19.9 410.8 16.5 411.4 15.6C412.0 14.7 411.4 12.7 411.4 12.7C411.4 12.7 483.7 12.7 483.7 12.7C483.7 12.7 483.2 14.1 483.7 14.5C484.2 14.9 488.7 17.9 491.7 18.8C494.8 19.8 505.6 18.5 507.8 22.0C510.0 25.6 501.3 27.1 497.1 27.4C492.9 27.7 427.1 28.5 416.8 28.7C406.4 29.0 387.3 30.1 387.3 30.1C387.3 30.1 387.3 23.1 387.3 23.1Z" fill="#d85a84"/>
<path d="M483.7 12.7C483.7 12.7 529.2 12.7 529.2 12.7C529.2 12.7 529.8 14.2 529.2 14.5C528.6 14.8 518.6 18.4 515.8 19.4C513.0 20.3 510.8 22.1 507.8 22.0C504.8 21.9 495.0 19.8 491.7 18.6C488.5 17.3 483.7 12.7 483.7 12.7Z" fill="#d81060"/>
<path d="M387.3 29.5C387.3 29.5 406.4 28.9 416.8 28.7C427.1 28.5 492.9 27.7 497.1 27.4C501.3 27.1 505.1 23.1 507.8 22.0C510.5 20.9 513.5 18.2 515.8 19.9C518.2 21.6 516.5 25.6 517.2 28.7C517.8 31.8 520.2 41.9 521.2 46.1C522.2 50.4 524.8 53.9 523.9 58.2C522.9 62.4 518.6 65.9 515.8 70.2C513.1 74.5 513.0 81.8 507.8 83.6C502.6 85.4 483.5 85.1 470.3 85.8C457.1 86.5 427.2 87.7 416.8 88.4C406.4 89.2 387.3 91.6 387.3 91.6C387.3 91.6 387.3 29.5 387.3 29.5Z" fill="#b842a8"/>
<path d="M515.8 19.9C517.8 17.5 528.8 14.2 529.2 14.0C529.6 13.8 529.2 12.7 529.2 12.7C529.2 12.7 593.5 12.7 593.5 12.7C593.5 12.7 593.5 45.1 593.5 45.1C593.5 45.1 558.2 45.3 550.6 45.6C543.1 45.9 531.6 47.4 529.2 47.5C526.8 47.5 523.8 48.4 522.5 46.4C521.2 44.4 517.9 31.8 517.2 28.7C516.4 25.7 513.8 22.3 515.8 19.9Z" fill="#d6ca8a"/>
<path d="M521.2 46.1C522.5 43.6 526.4 47.5 529.2 47.5C532.1 47.4 543.1 45.9 550.6 45.6C558.2 45.3 593.5 44.8 593.5 44.8C593.5 44.8 593.5 58.4 593.5 58.4C593.5 58.4 576.9 58.8 572.1 59.5C567.2 60.2 563.6 63.3 558.7 63.5C553.8 63.7 545.6 61.7 539.9 60.9C534.3 60.0 527.3 60.9 523.9 58.2C520.5 55.5 519.9 48.7 521.2 46.1Z" fill="#dcc23a"/>
<path d="M523.9 58.2C528.6 56.3 534.3 60.0 539.9 60.9C545.6 61.7 555.6 62.2 558.7 63.5C561.8 64.9 562.7 68.9 564.0 71.6C565.4 74.2 569.1 77.9 566.7 79.6C564.3 81.3 556.3 80.5 550.6 80.9C545.0 81.3 513.1 85.2 507.8 83.6C502.6 82.0 513.1 74.5 515.8 70.2C518.6 65.9 519.1 60.0 523.9 58.2Z" fill="#a452c0"/>
<path d="M558.7 63.5C560.6 60.7 567.2 60.3 572.1 59.5C576.9 58.8 593.5 58.2 593.5 58.2C593.5 58.2 593.5 105.6 593.5 105.6C593.5 105.6 580.4 103.9 577.4 102.4C574.4 100.8 573.2 97.5 572.1 94.3C570.9 91.1 571.4 85.5 570.7 83.6C570.0 81.7 567.7 81.3 566.7 79.6C565.7 77.8 565.4 74.2 564.0 71.6C562.7 68.9 556.8 66.4 558.7 63.5Z" fill="#d0553a"/>
<path d="M428.8 125.1C429.4 121.1 432.2 118.1 435.5 115.7C438.8 113.4 443.9 111.2 448.9 110.9C453.9 110.7 480.2 111.5 497.1 112.5C514.0 113.6 541.2 116.2 550.6 117.1C560.1 117.9 574.1 119.5 577.4 119.8C580.7 120.0 587.4 117.0 586.8 120.3C586.2 123.5 574.4 128.2 574.7 134.5C575.1 140.8 586.7 142.1 588.1 146.5C589.6 150.9 587.2 157.3 582.8 158.6C578.3 159.9 562.0 157.6 550.6 157.2C539.3 156.9 511.3 155.7 497.1 155.9C482.9 156.1 463.1 158.4 456.9 158.6C450.8 158.7 443.6 160.0 439.5 157.2C435.5 154.5 436.4 146.7 435.5 143.9C434.6 141.0 433.8 138.6 432.8 135.8C431.8 133.0 428.3 129.1 428.8 125.1Z" fill="#686ac0"/>
<path d="M586.8 120.3C588.6 118.8 593.5 119.8 593.5 119.8C593.5 119.8 593.5 149.2 593.5 149.2C593.5 149.2 589.8 147.8 588.1 146.5C586.5 145.2 575.1 140.8 574.7 134.5C574.4 128.2 584.9 121.8 586.8 120.3Z" fill="#d4a8b8"/>
<path d="M387.3 123.0C387.3 123.0 416.1 126.6 419.5 127.0C422.8 127.4 426.3 126.7 428.8 128.3C431.3 130.0 431.7 133.1 432.8 135.8C434.0 138.6 434.6 141.0 435.5 143.9C436.4 146.7 441.7 152.8 439.5 157.2C437.3 161.6 429.7 162.2 424.8 165.3C419.9 168.3 416.9 172.9 411.4 174.6C405.9 176.4 387.3 177.3 387.3 177.3C387.3 177.3 387.3 123.0 387.3 123.0Z" fill="#cc7a58"/>
<path d="M439.5 157.5C445.3 156.3 450.8 159.0 456.9 158.8C463.1 158.7 482.9 156.4 497.1 156.2C511.3 156.0 539.3 157.2 550.6 157.5C562.0 157.9 577.6 156.4 582.8 158.8C588.0 161.3 585.1 170.5 586.8 174.6C588.5 178.8 593.5 185.4 593.5 185.4C593.5 185.4 593.5 202.0 593.5 202.0C593.5 202.0 560.1 203.7 550.6 204.4C541.2 205.1 533.3 206.8 523.9 207.0C514.4 207.2 493.2 206.3 483.7 205.7C474.3 205.1 466.3 204.2 456.9 203.0C447.5 201.8 437.5 200.9 430.2 199.0C422.8 197.1 412.6 193.7 410.1 191.0C407.6 188.3 413.9 183.9 414.1 181.3C414.3 178.8 410.0 176.7 411.4 174.6C412.8 172.5 419.9 168.5 424.8 165.5C429.7 162.6 433.8 158.7 439.5 157.5Z" fill="#62b004"/>
<path d="M387.3 177.9C387.3 177.9 409.0 174.6 411.4 174.9C413.8 175.2 414.3 178.9 414.1 181.3C413.9 183.8 413.6 190.0 410.1 191.0C406.5 191.9 387.3 188.3 387.3 188.3C387.3 188.3 387.3 177.9 387.3 177.9Z" fill="#e084a4"/>
<path d="M387.3 188.3C387.3 188.3 402.7 189.1 410.1 191.0C417.5 192.8 422.8 197.1 430.2 199.0C437.5 200.9 447.5 201.8 456.9 203.0C466.3 204.2 476.0 204.2 483.7 205.7C491.4 207.2 501.4 209.1 505.1 212.1C508.8 215.2 508.3 221.3 507.8 225.5C507.3 229.7 503.6 232.6 502.4 236.2C501.3 239.8 501.1 246.9 501.1 246.9C501.1 246.9 387.3 246.9 387.3 246.9C387.3 246.9 387.3 188.3 387.3 188.3Z" fill="#dc9258"/>
<path d="M505.1 212.1C497.3 211.1 476.1 207.9 483.7 205.7C491.3 203.5 514.4 207.0 523.9 206.8C533.3 206.5 541.2 204.8 550.6 204.1C560.1 203.4 593.5 201.4 593.5 201.4C593.5 201.4 593.5 207.8 593.5 207.8C593.5 207.8 558.2 209.8 550.6 210.3C543.1 210.7 536.8 211.3 529.2 211.6C521.7 211.9 512.9 213.1 505.1 212.1Z" fill="#20b070"/>
<path d="M505.1 212.4C509.1 209.8 521.7 211.9 529.2 211.6C536.8 211.2 543.1 210.7 550.6 210.3C558.2 209.8 593.5 207.6 593.5 207.6C593.5 207.6 593.5 246.9 593.5 246.9C593.5 246.9 501.1 246.9 501.1 246.9C501.1 246.9 501.3 239.8 502.4 236.2C503.6 232.6 507.3 229.7 507.8 225.5C508.3 221.3 501.2 215.0 505.1 212.4Z" fill="#4cb85c"/>
<path d="M582.8 158.8C584.2 155.4 593.5 158.3 593.5 158.3C593.5 158.3 593.5 185.9 593.5 185.9C593.5 185.9 588.5 178.9 586.8 174.6C585.1 170.4 581.3 162.3 582.8 158.8Z" fill="#d83a4a"/>
<path d="M550.6 244.5C550.6 244.5 564.5 243.5 572.1 242.9C579.6 242.3 593.5 241.0 593.5 241.0C593.5 241.0 593.5 246.9 593.5 246.9C593.5 246.9 550.6 246.9 550.6 246.9C550.6 246.9 550.6 244.5 550.6 244.5Z" fill="#d05838"/>
<path d="M388.9 244.8C388.9 244.8 399.9 241.5 406.1 240.5C412.2 239.5 421.7 238.7 430.2 238.4C438.7 238.0 449.4 238.0 456.9 238.4C464.5 238.7 472.4 239.5 478.4 240.5C484.3 241.5 495.0 244.8 495.0 244.8C495.0 244.8 388.9 244.8 388.9 244.8Z" fill="#d86c60"/>
<path d="M18.7 109.4C18.7 109.4 50.8 113.4 58.1 114.5C65.5 115.5 92.1 119.6 96.3 120.3C100.5 121.0 115.2 124.8 117.9 124.6C120.6 124.5 128.0 119.2 130.6 118.8C133.3 118.3 149.3 118.7 152.2 118.8C155.2 118.9 164.6 119.5 167.5 119.8C170.4 120.1 182.9 122.2 185.3 122.3C187.7 122.5 195.6 121.6 198.0 121.8C200.5 122.1 222.6 125.7 226.8 126.7C231.0 127.7 246.4 133.1 248.2 133.4C250.0 133.8 255.8 133.0 257.6 132.9C259.4 132.7 269.5 131.7 272.3 131.5C275.1 131.3 285.3 131.2 288.4 130.7C291.4 130.3 303.5 127.4 307.1 126.7C310.7 126.0 326.3 123.3 328.5 122.7C330.7 122.1 337.1 118.1 339.2 117.3C341.4 116.6 352.7 114.0 355.3 113.3C357.9 112.6 366.5 108.9 368.7 109.3C370.8 109.7 374.9 116.1 376.7 117.3C378.5 118.6 387.0 122.5 387.4 122.7C387.9 122.9 389.5 122.6 390.0 122.7C390.5 122.8 403.5 124.8 406.1 125.1C408.6 125.5 417.6 126.5 419.5 126.7C421.3 127.0 427.4 127.1 428.8 128.1C430.2 129.0 432.2 134.3 432.8 135.8C433.5 137.4 436.1 144.7 436.1 144.7" fill="none" stroke="#0a0a0a" stroke-width="1.9" stroke-linejoin="round"/>
<ellipse cx="166.5" cy="119.6" rx="3.2" ry="1.7" fill="#0a0a0a"/>
<ellipse cx="186" cy="122.4" rx="3.4" ry="1.6" fill="#0a0a0a"/>
<ellipse cx="247.5" cy="132.8" rx="3.6" ry="2.0" fill="#0a0a0a"/>
<ellipse cx="266.5" cy="132.2" rx="2.2" ry="1.4" fill="#0a0a0a"/>
<ellipse cx="100" cy="120.4" rx="1.8" ry="1.2" fill="#0a0a0a"/>
<ellipse cx="117.5" cy="124.8" rx="1.6" ry="1.2" fill="#0a0a0a"/>
<ellipse cx="196.5" cy="122.8" rx="1.6" ry="1.1" fill="#0a0a0a"/>
<rect x="422" y="222.2" width="142" height="2.4" fill="#fbfbf3"/>
<text x="466.5" y="213.6" class="t" style="fill:#fbfbef;font-size:21.5px">16 μm</text>
</g></g>
<g id="pb">
<defs>
<clipPath id="cb"><rect x="20" y="252" width="569" height="229.4"/></clipPath>
<radialGradient id="bY"><stop offset="0" stop-color="#ffd000"/><stop offset="0.4" stop-color="#f6dc08" stop-opacity="0.97"/><stop offset="0.7" stop-color="#e0dc18" stop-opacity="0.6"/><stop offset="1" stop-color="#b8d430" stop-opacity="0"/></radialGradient>
<radialGradient id="bO"><stop offset="0" stop-color="#ff3000"/><stop offset="0.5" stop-color="#ff6800" stop-opacity="0.95"/><stop offset="0.8" stop-color="#ffa800" stop-opacity="0.6"/><stop offset="1" stop-color="#ffd000" stop-opacity="0"/></radialGradient>
<radialGradient id="bR"><stop offset="0" stop-color="#720000"/><stop offset="0.25" stop-color="#980000"/><stop offset="0.55" stop-color="#d00800" stop-opacity="0.95"/><stop offset="0.8" stop-color="#f02000" stop-opacity="0.7"/><stop offset="1" stop-color="#ff2000" stop-opacity="0"/></radialGradient>
<radialGradient id="bYp"><stop offset="0" stop-color="#e6c40c" stop-opacity="1"/><stop offset="0.55" stop-color="#d8c814" stop-opacity="0.75"/><stop offset="1" stop-color="#b0cc28" stop-opacity="0"/></radialGradient>
<radialGradient id="bYq"><stop offset="0" stop-color="#c4cc18" stop-opacity="0.9"/><stop offset="0.6" stop-color="#b8cc20" stop-opacity="0.55"/><stop offset="1" stop-color="#a8cc28" stop-opacity="0"/></radialGradient>
<radialGradient id="bT"><stop offset="0" stop-color="#08b4a4" stop-opacity="0.95"/><stop offset="0.55" stop-color="#28bc90" stop-opacity="0.7"/><stop offset="1" stop-color="#60c860" stop-opacity="0"/></radialGradient>
<radialGradient id="bG"><stop offset="0" stop-color="#68c858" stop-opacity="0.8"/><stop offset="1" stop-color="#80cc48" stop-opacity="0"/></radialGradient>
<radialGradient id="bN"><stop offset="0" stop-color="#000064" stop-opacity="0.95"/><stop offset="0.6" stop-color="#000070" stop-opacity="0.6"/><stop offset="1" stop-color="#000080" stop-opacity="0"/></radialGradient>
<filter id="bl3" x="-20%" y="-20%" width="140%" height="140%"><feGaussianBlur stdDeviation="3"/></filter>
<filter id="bl1" x="-20%" y="-20%" width="140%" height="140%"><feGaussianBlur stdDeviation="1.2"/></filter>
</defs>
<g clip-path="url(#cb)">
<!-- far-field patches -->
<ellipse cx="457" cy="256" rx="24" ry="42" fill="url(#bT)"/>
<path d="M507 250L553 250L557 284L541 306L525 300L514 276Z" fill="#dcc412" filter="url(#bl3)" opacity="0.9"/>
<path d="M500 440L589 425V482H480Z" fill="#b6c81c" filter="url(#bl3)" opacity="0.55"/>
<ellipse cx="494" cy="402" rx="26" ry="52" fill="url(#bG)"/>
<ellipse cx="531" cy="256" rx="40" ry="52" fill="url(#bYp)"/>
<ellipse cx="532" cy="262" rx="26" ry="34" fill="url(#bYp)"/>
<ellipse cx="531" cy="258" rx="20" ry="22" fill="url(#bYp)"/>
<ellipse cx="546" cy="298" rx="26" ry="30" fill="url(#bYq)"/>
<ellipse cx="552" cy="466" rx="66" ry="56" fill="url(#bYq)"/>
<ellipse cx="556" cy="470" rx="40" ry="30" fill="url(#bYq)"/>
<ellipse cx="500" cy="420" rx="30" ry="45" fill="url(#bG)"/>
<ellipse cx="593" cy="370" rx="21" ry="50" fill="url(#bT)"/>
<ellipse cx="462" cy="478" rx="26" ry="36" fill="url(#bT)" opacity="0.7"/>
<ellipse cx="590" cy="460" rx="5" ry="17" fill="#e08008" filter="url(#bl1)" opacity="0.8"/>
<path d="M518 278Q520 286 523 294" stroke="#e08408" stroke-width="5" fill="none" filter="url(#bl3)" stroke-linecap="round" opacity="0.9"/>
<path d="M505 296L490 322" stroke="#40bc88" stroke-width="2" fill="none" filter="url(#bl1)" stroke-linecap="round" opacity="0.4"/>
<path d="M552 300L560 314" stroke="#50bc78" stroke-width="2" fill="none" filter="url(#bl1)" stroke-linecap="round" opacity="0.35"/>
<g filter="url(#bl3)" opacity="0.3">
<path d="M20 300L34 352L20 400Z" fill="#0018c0"/>
<path d="M40 345L120 352L230 362L330 350L380 340" stroke="#0010b0" stroke-width="5" fill="none"/>
<path d="M125 310L118 352M112 365L125 400M335 300L330 345M240 368L250 400" stroke="#0010b0" stroke-width="6" fill="none"/>
</g>
<!-- dark wedge left of tip -->
<ellipse cx="395" cy="380" rx="42" ry="24" fill="url(#bN)"/>
<!-- hot zone: clipped to right side of tip wedge -->
<filter id="bl2" x="-10%" y="-10%" width="120%" height="120%"><feGaussianBlur stdDeviation="2.2"/></filter>
<mask id="mbh" maskUnits="userSpaceOnUse" x="20" y="252" width="569" height="230"><path d="M430.6 381.3L435 366Q442 330 455 245H600V490H466Q443 430 433.5 396Z" fill="#fff" filter="url(#bl2)"/><path d="M429.2 381.3L432 370L446 352L452 380L446 404L431 392Z" fill="#fff"/></mask>
<g mask="url(#mbh)">
<ellipse cx="0" cy="0" rx="34" ry="70" fill="url(#bY)" transform="translate(452 364) rotate(12)"/>
<ellipse cx="0" cy="0" rx="16" ry="46" fill="url(#bO)" transform="translate(445 365) rotate(15)"/>
<ellipse cx="0" cy="0" rx="9" ry="29" fill="url(#bR)" transform="translate(439.6 369) rotate(18)"/>
</g>
</g>
</g>

<g id="pc">
<defs>
<clipPath id="cc"><rect x="20" y="489.3" width="568.7" height="230"/></clipPath>
<filter id="c8" filterUnits="userSpaceOnUse" x="0" y="470" width="620" height="270"><feGaussianBlur stdDeviation="8"/></filter>
<filter id="c4" filterUnits="userSpaceOnUse" x="0" y="470" width="620" height="270"><feGaussianBlur stdDeviation="4"/></filter>
<filter id="c2" filterUnits="userSpaceOnUse" x="0" y="470" width="620" height="270"><feGaussianBlur stdDeviation="1.6"/></filter>
<filter id="c3" filterUnits="userSpaceOnUse" x="0" y="470" width="620" height="270"><feGaussianBlur stdDeviation="3"/></filter>
<filter id="c1" filterUnits="userSpaceOnUse" x="0" y="470" width="620" height="270"><feGaussianBlur stdDeviation="0.7"/></filter>
<path id="crk" d="M41.4 586.8L78.2 593L111.2 600.8L122.9 594.6L163.6 594.6L190.8 596.9L231.6 605.5L256.8 608.6L276.2 604.7L300 601.6L329 593L342.7 589L360 582L370 590.7L393 599.6L416.5 602.4L426 615"/>
<path id="crk2" d="M60 552L41.4 586.8L56 607M360 582L372 566.6"/>
</defs>
<rect x="20" y="489.3" width="568.7" height="230" fill="#0512a6"/>
<g clip-path="url(#cc)">
<g filter="url(#c8)">
<path d="M150 489H330V575L250 590L160 570Z" fill="#00058c" opacity="0.6"/>
<path d="M385 489H589V600L520 610L440 600L380 560Z" fill="#0c28bc" opacity="0.8"/>
<path d="M230 615L420 612L400 719H240Z" fill="#0a24b8" opacity="0.7"/>
<path d="M412 640Q500 622 587 634L589 680Q500 690 430 682Z" fill="#00006e"/>
<path d="M20 489H60L50 560L20 580Z" fill="#0008a0" opacity="0.6"/>
<path d="M500 700H589V719H500Z" fill="#0c24b8" opacity="0.6"/>
<path d="M20 680H90L70 719H20Z" fill="#000088" opacity="0.4"/>
<path d="M100 640H210V719H100Z" fill="#000490" opacity="0.45"/>
</g>
<g filter="url(#c4)">
<path d="M412 642Q500 626 585 636L587 676Q500 686 432 680Z" fill="#000072"/>
</g>
<!-- light streak fans -->
<g filter="url(#c3)" fill="#2c70e0" opacity="0.62">
<path d="M232 610L262 612L300 690L285 672Z"/>
<path d="M236 612L296 607L292 650L262 640Z" opacity="0.8"/>
<path d="M405 489L470 489L440 540L385 560Z" opacity="0.5"/>
<path d="M362 580L400 489L414 489L372 572Z" opacity="0.75"/>
<path d="M374 568L470 505L510 489L530 500L440 552Z" opacity="0.5"/>
<path d="M560 590L589 575V640L566 622Z" opacity="0.45"/>
<path d="M420 604L470 560L520 520L500 570Z" opacity="0.35"/>
<path d="M262 612L298 606L282 660Z" opacity="0.7"/>
<path d="M58 525L80 538L62 540Z"/>
<path d="M70 540L82 538L66 560Z" opacity="0.6"/>
<path d="M60 610L100 622L60 630Z" opacity="0.6"/>
<path d="M100 600L118 598L105 640L98 625Z" opacity="0.7"/>
<path d="M362 580L380 500L410 489L372 568Z" opacity="0.6"/>
<path d="M372 566L500 500L520 520L420 560Z" opacity="0.35"/>
<path d="M300 600L330 594L340 650L322 640Z" opacity="0.6"/>
<path d="M416 602L428 560L436 600Z" opacity="0.6"/>
<path d="M186 690L200 690L190 719L178 719Z" opacity="0.5"/>
</g>
<g filter="url(#c2)" stroke="#4888e8" stroke-width="2.2" fill="none" opacity="0.55" stroke-linecap="round">
<path d="M365 655L378 664M560 615L580 598M570 640L589 620M495 690L505 682M500 540L520 525M290 520L296 512M310 500L318 492M62 628L70 650M130 580L120 570"/>
</g>
<path d="M218 622.5L262 608.8" stroke="#28a8e0" stroke-width="2.2" fill="none" filter="url(#c1)" opacity="0.85" stroke-linecap="round"/>
<path d="M232 618L262 608.8" stroke="#90e060" stroke-width="1.4" fill="none" filter="url(#c1)" opacity="0.8" stroke-linecap="round"/>
<!-- crack glow -->
<g fill="none" stroke-linejoin="round" stroke-linecap="round">
<use href="#crk" stroke="#0840d0" stroke-width="17" filter="url(#c4)" opacity="0.75"/>
<use href="#crk2" stroke="#0840d0" stroke-width="9" filter="url(#c4)" opacity="0.7"/>
<use href="#crk" stroke="#48a8e8" stroke-width="13" stroke-dasharray="0.7 3.1" stroke-linecap="butt" opacity="0.4"/>
<g filter="url(#c2)">
<use href="#crk" stroke="#10a0dc" stroke-width="6.6"/>
<use href="#crk2" stroke="#10a0dc" stroke-width="4"/>
</g>
<g filter="url(#c1)">
<use href="#crk" stroke="#50d878" stroke-width="4.1"/>
<path d="M57 557L41.4 586.8L56 607M360 582L369 570" stroke="#40d090" stroke-width="3"/>
<use href="#crk" stroke="#ece400" stroke-width="2.3"/>
<path d="M52 566L41.4 586.8L55.5 606M360 582L365 575" stroke="#f0e000" stroke-width="2"/>
</g>
<use href="#crk" stroke="#d82800" stroke-width="1.5" stroke-dasharray="1.4 4.6" filter="url(#c1)"/>
<path d="M46.5 577L41.4 586.8L55 605.5" stroke="#c81000" stroke-width="2.2" filter="url(#c1)"/>
</g>
</g>
</g>

<g id="pd"><defs>
<path id="net" d="M20.0 14.0C29.0 8.9 60.6 14.0 69.6 15.3M69.6 15.3C78.6 16.5 84.8 22.6 93.8 24.2M93.8 24.2C102.7 25.7 122.4 24.5 135.7 26.7M135.7 26.7C149.0 29.0 163.6 34.8 172.6 37.4M172.6 37.4C181.6 40.0 192.7 43.4 198.0 45.0M198.0 45.0C200.5 45.8 205.0 47.1 205.0 47.1M205.0 82.9C205.0 82.9 184.0 82.9 172.6 83.9M172.6 83.9C160.9 85.0 145.8 90.5 139.5 89.0M139.5 89.0C133.2 87.5 133.0 77.2 129.4 73.8M129.4 73.8C125.7 70.3 121.6 68.3 116.6 67.4M116.6 67.4C111.7 66.6 82.6 65.2 70.9 63.6M70.9 63.6C59.1 62.0 41.4 59.0 37.8 56.7M37.8 56.7C34.2 54.4 42.6 47.6 42.9 45.8M42.9 45.8C43.1 43.9 41.7 41.7 39.8 41.5M39.8 41.5C38.0 41.3 24.1 48.9 20.0 43.2M20.0 43.2C15.9 37.6 11.0 19.1 20.0 14.0M129.4 73.8C135.0 70.7 157.9 73.7 172.6 71.2M172.6 71.2C184.3 69.4 205.0 62.1 205.0 62.1M205.0 81.3C205.0 81.3 184.0 82.6 172.6 83.9M69.6 12.7C68.7 12.7 68.8 14.9 69.6 15.3M135.7 26.7C150.5 26.8 205.0 24.4 205.0 24.4M18.7 43.2C22.9 39.9 38.0 41.3 39.8 41.5M38.3 56.7C34.6 58.7 23.2 61.6 18.7 58.5M139.5 89.0C140.0 94.6 133.5 97.7 131.9 103.0M131.9 103.0C130.3 108.3 133.3 114.6 130.6 118.8M130.6 118.8C128.0 122.9 122.8 124.4 117.9 124.6M117.9 124.6C113.0 124.8 103.9 121.6 96.3 120.3M96.3 120.3C88.6 119.0 71.6 116.4 58.1 114.5M205.0 123.3C205.0 123.3 191.6 122.7 185.3 122.1M185.3 122.1C179.0 121.5 173.8 119.9 167.5 119.5M167.5 119.5C161.2 119.2 135.7 121.1 130.6 118.8M117.9 124.6C121.1 128.5 110.1 129.9 105.2 131.0M105.2 131.0C100.3 132.0 82.8 132.4 70.9 134.8M70.9 134.8C58.9 137.2 36.6 144.5 35.3 145.0M35.3 145.0C33.9 145.5 35.3 148.3 34.0 148.8M34.0 148.8C32.7 149.3 20.7 156.4 18.7 151.3M205.0 148.7C205.0 148.7 181.6 147.0 172.6 146.2M172.6 146.2C163.6 145.5 156.1 145.0 147.2 143.7M147.2 143.7C138.3 142.4 126.6 139.2 121.7 138.6M121.7 138.6C116.8 138.0 110.3 139.8 107.7 138.6M107.7 138.6C105.2 137.4 103.5 133.3 105.2 131.0M107.7 138.6C105.2 139.9 78.5 145.3 76.0 146.2M76.0 146.2C73.4 147.1 73.5 151.7 70.9 151.8M70.9 151.8C68.2 152.0 39.4 149.1 37.8 148.8M37.8 148.8C36.2 148.5 33.8 145.6 35.3 145.0M18.7 151.3C20.5 145.7 29.4 148.7 35.3 148.8M35.3 148.8C41.1 148.8 67.1 150.7 70.9 151.8M70.9 151.8C74.6 153.0 75.7 157.6 76.5 161.5M76.5 161.5C77.2 165.4 76.9 178.8 76.5 181.9M76.5 181.9C76.0 184.9 74.9 188.1 72.1 189.5M72.1 189.5C69.4 190.8 56.1 192.3 53.1 193.3M53.1 193.3C50.0 194.3 48.6 197.8 45.4 198.4M45.4 198.4C42.3 199.0 23.4 207.8 18.7 199.7M172.6 146.2C181.6 147.0 205.0 148.3 205.0 148.3M205.0 192.4C205.0 192.4 75.2 189.7 72.1 189.5M205.0 240.2C205.0 240.2 181.6 238.8 172.6 237.8M172.6 237.8C163.6 236.9 156.1 235.3 147.2 234.0M147.2 234.0C138.2 232.6 130.7 230.6 121.7 230.2M121.7 230.2C112.8 229.7 105.2 232.3 96.3 231.4M96.3 231.4C87.4 230.6 79.2 229.0 70.9 225.1M70.9 225.1C62.5 221.2 46.3 209.6 44.2 207.3M44.2 207.3C42.0 205.0 43.7 201.1 45.4 198.4M44.2 207.3C42.8 209.5 40.4 211.7 37.8 211.1M37.8 211.1C35.3 210.5 19.3 202.1 18.7 201.7M18.7 201.2C23.0 194.9 35.6 203.9 37.8 211.1M37.8 211.1C40.0 218.3 30.1 226.5 27.6 230.2M27.6 230.2C25.1 233.8 20.0 243.3 18.7 239.1M172.6 238.3C181.6 239.4 205.0 240.9 205.0 240.9M205.0 202.4C205.0 202.4 199.9 203.0 198.0 204.7M198.0 204.7C194.6 207.2 192.1 211.1 191.7 214.9M191.7 214.9C191.2 218.7 192.4 222.8 195.5 225.1M195.5 225.1C198.0 227.6 205.0 228.1 205.0 228.1M205.0 80.2C205.0 80.2 221.7 79.5 226.8 78.3M226.8 78.3C231.9 77.1 235.6 73.5 240.2 71.6M240.2 71.6C244.7 69.6 248.6 67.7 253.5 67.0M253.5 67.0C258.5 66.4 273.7 66.7 280.3 66.2M280.3 66.2C287.0 65.7 292.8 61.2 299.1 63.5M299.1 63.5C305.3 65.9 307.0 73.9 312.4 78.3M312.4 78.3C317.9 82.7 325.9 87.7 333.9 91.6M333.9 91.6C341.8 95.6 357.4 100.7 360.6 102.4M360.6 102.4C363.9 104.0 370.3 105.8 368.7 109.0M368.7 109.0C367.0 112.3 360.0 111.8 355.3 113.1M355.3 113.1C350.5 114.3 342.2 116.8 339.8 116.8M339.8 116.8C337.3 116.8 336.3 113.2 333.9 113.1M333.9 113.1C331.4 112.9 325.1 114.5 320.5 115.7M320.5 115.7C315.8 116.9 311.8 118.5 307.1 120.0M307.1 120.0C302.4 121.5 294.8 123.9 288.4 125.9M288.4 125.9C281.9 128.0 276.8 130.6 270.1 131.8M270.1 131.8C263.5 133.0 255.9 134.1 248.2 133.1M248.2 133.1C240.5 132.2 234.4 128.3 226.8 126.4M226.8 126.4C219.2 124.5 205.0 122.1 205.0 122.1M277.6 12.7C278.6 12.7 277.4 14.4 277.6 15.3M277.6 15.3C277.9 16.2 282.7 21.1 280.3 22.0M280.3 22.0C278.0 23.0 263.0 25.0 253.5 25.2M253.5 25.2C244.1 25.5 205.0 24.3 205.0 24.3M395.0 22.5C395.0 22.5 332.2 21.7 328.5 22.0M328.5 22.0C324.8 22.3 323.7 26.9 320.5 28.7M320.5 28.7C317.3 30.6 309.7 37.9 303.1 36.8M303.1 36.8C296.4 35.6 290.8 24.9 288.4 23.4M288.4 23.4C285.9 21.8 282.3 24.1 280.3 22.0M280.3 22.0C278.3 20.0 274.2 12.9 277.6 12.7M328.5 22.0C332.2 21.7 395.0 22.0 395.0 22.0M395.0 29.2C395.0 29.2 372.7 28.0 360.6 27.9M360.6 27.9C346.5 27.8 324.1 29.4 320.5 28.7M205.0 24.8C205.0 24.8 244.1 25.6 253.5 25.2M303.1 36.8C304.8 39.6 302.9 43.0 301.7 46.1M301.7 46.1C300.5 49.2 299.7 53.6 296.4 54.2M296.4 54.2C293.0 54.7 256.4 54.1 253.5 54.2M253.5 54.2C250.7 54.2 248.4 55.6 245.5 55.5M245.5 55.5C242.7 55.4 233.3 54.2 226.8 52.8M226.8 52.8C220.2 51.5 205.0 47.1 205.0 47.1M296.4 54.2C299.7 54.9 301.8 61.5 299.1 63.5M253.5 67.0C251.9 66.9 250.4 66.2 249.5 64.9M249.5 64.9C248.6 63.6 244.5 58.2 245.5 55.5M226.8 52.8C230.9 58.0 214.2 59.3 209.9 61.1M209.9 61.1C208.2 61.9 205.0 62.8 205.0 62.8M226.8 78.3C221.7 79.6 205.0 80.6 205.0 80.6M395.0 91.7C395.0 91.7 389.9 92.0 387.4 93.0M387.4 93.0C382.0 94.8 374.9 99.8 371.4 101.0M371.4 101.0C367.8 102.3 364.3 103.3 360.6 102.4M299.1 63.5C297.3 60.7 297.2 57.3 297.7 54.2M297.7 54.2C298.2 51.0 300.8 49.1 301.7 46.1M339.8 116.8C338.6 119.0 332.8 121.4 328.5 122.7M328.5 122.7C324.2 124.0 313.7 125.6 307.1 127.0M307.1 127.0C300.5 128.4 294.7 130.2 288.4 131.0M288.4 131.0C282.0 131.8 270.1 138.2 270.1 131.8M368.7 109.0C367.7 106.2 369.1 103.0 371.4 101.0M395.0 123.6C395.0 123.6 390.0 123.3 387.4 122.4M387.4 122.4C383.4 121.3 380.0 119.4 376.7 117.1M376.7 117.1C373.5 114.8 369.6 111.9 368.7 109.0M285.7 133.7C285.7 132.5 287.1 131.4 288.4 131.0M328.5 123.0C332.6 121.8 335.2 119.0 339.2 117.6M339.2 117.6C343.2 116.2 350.5 114.9 355.3 113.6M355.3 113.6C360.0 112.3 364.7 108.8 368.7 109.6M368.7 109.6C372.6 110.3 373.5 115.3 376.7 117.6M376.7 117.6C380.0 119.9 383.4 121.8 387.4 123.0M387.4 123.0C390.0 123.9 395.0 124.1 395.0 124.1M395.0 179.7C395.0 179.7 383.4 181.4 382.1 181.3M382.1 181.3C380.7 181.3 380.7 178.9 379.4 178.7M379.4 178.7C378.1 178.4 367.2 177.9 360.6 177.9M360.6 177.9C354.0 177.8 328.2 180.0 323.2 177.9M323.2 177.9C318.1 175.7 332.0 170.9 333.9 166.6M333.9 166.6C335.7 162.3 334.7 156.5 333.9 153.2M333.9 153.2C333.0 149.9 331.6 146.7 328.5 145.2M328.5 145.2C325.5 143.7 313.7 141.4 307.1 139.8M307.1 139.8C300.5 138.3 289.5 136.2 288.4 135.8M288.4 135.8C287.2 135.5 285.7 134.9 285.7 133.7M205.0 122.6C205.0 122.6 219.2 125.0 226.8 127.0M226.8 127.0C234.4 128.9 240.3 132.8 248.2 133.7M248.2 133.7C256.0 134.5 267.5 131.7 272.3 131.8M272.3 131.8C277.1 131.9 284.6 133.9 285.7 134.2M288.4 135.8C287.3 136.1 274.5 137.5 266.9 138.5M266.9 138.5C259.4 139.5 245.1 141.4 240.2 142.5M240.2 142.5C235.2 143.7 231.8 147.2 226.8 147.9M226.8 147.9C221.8 148.6 205.0 147.9 205.0 147.9M232.1 147.9C230.4 145.0 236.9 143.4 240.2 142.5M323.2 177.9C318.0 179.5 295.0 181.1 288.4 181.3M288.4 181.3C281.7 181.6 275.9 182.2 269.6 180.0M269.6 180.0C263.4 177.8 256.9 173.1 253.5 169.3M253.5 169.3C250.2 165.5 251.8 159.5 248.2 155.9M248.2 155.9C244.6 152.3 233.9 150.8 232.1 147.9M205.0 147.5C205.0 147.5 224.9 147.8 226.8 147.9M226.8 147.9C228.7 147.9 230.4 147.2 232.1 147.9M269.6 180.0C271.3 182.9 267.4 186.7 264.3 188.0M264.3 188.0C261.1 189.3 248.7 191.3 240.2 192.0M240.2 192.0C231.6 192.8 205.0 193.6 205.0 193.6M205.0 193.2C205.0 193.2 222.9 190.9 226.8 192.8M226.8 192.8C230.9 194.0 220.1 197.1 216.1 198.7M216.1 198.7C212.3 200.4 205.0 202.2 205.0 202.2M226.8 192.8C230.9 191.7 235.5 192.6 240.2 192.0M264.3 188.0C270.0 186.8 277.4 183.5 280.3 183.2M280.3 183.2C283.2 182.9 286.1 183.5 288.4 185.4M288.4 185.4C290.6 187.2 294.8 194.5 299.1 198.7M299.1 198.7C303.3 203.0 312.2 205.3 313.8 210.8M313.8 210.8C315.4 216.2 308.9 221.7 307.1 225.5M307.1 225.5C305.3 229.3 305.9 235.3 301.7 236.2M301.7 236.2C297.6 237.1 263.0 237.6 253.5 237.6M253.5 237.6C244.1 237.6 236.0 238.3 226.8 236.2M226.8 236.2C218.7 234.6 205.0 227.9 205.0 227.9M288.4 185.4C287.6 183.5 290.4 181.7 292.4 181.3M292.4 181.3C294.3 180.9 312.3 178.6 323.2 178.1M360.6 178.1C366.8 178.2 375.1 177.8 378.0 179.2M378.0 179.2C381.0 180.6 381.3 184.8 380.7 188.0M380.7 188.0C380.1 191.2 376.1 198.7 374.0 201.4M374.0 201.4C371.9 204.1 369.4 206.3 366.0 206.8M366.0 206.8C362.6 207.2 321.8 209.7 315.1 208.9M315.1 208.9C308.5 208.1 303.6 202.7 299.1 198.7M379.9 181.3C381.9 180.1 395.0 179.3 395.0 179.3M395.0 189.1C395.0 189.1 386.1 188.1 384.7 188.0M384.7 188.0C383.3 187.9 381.5 189.2 380.7 188.0M380.7 188.0C379.9 186.9 377.7 182.3 379.9 181.3M313.8 210.8C314.1 210.1 314.3 209.0 315.1 208.9M301.7 246.9C298.0 246.5 300.8 239.9 301.7 236.2M226.8 236.2C229.9 238.8 220.0 239.4 216.1 240.2M216.1 240.2C212.3 241.1 205.0 241.3 205.0 241.3M285.1 183.2C285.6 181.9 289.1 181.2 290.0 181.1M290.0 181.1C290.8 180.9 292.4 181.3 292.1 182.1M292.1 182.1C291.8 182.9 289.7 185.1 288.4 185.4M288.4 185.4C287.0 185.6 284.7 184.5 285.1 183.2M395.0 90.8C395.0 90.8 409.1 88.9 416.8 88.4M416.8 88.4C427.2 87.7 457.1 86.5 470.3 85.8M470.3 85.8C483.5 85.1 494.6 84.4 507.8 83.6M507.8 83.6C521.0 82.8 545.0 81.3 550.6 80.9M550.6 80.9C556.3 80.5 564.7 79.3 566.7 79.6M566.7 79.6C568.7 79.9 570.0 81.7 570.7 83.6M570.7 83.6C571.4 85.5 570.9 91.1 572.1 94.3M572.1 94.3C573.2 97.5 574.4 100.8 577.4 102.4M577.4 102.4C580.4 103.9 590.0 101.7 593.5 105.6M593.5 120.3C589.6 123.7 583.1 120.2 577.4 119.8M577.4 119.8C571.8 119.3 560.1 117.9 550.6 117.1M550.6 117.1C541.2 116.2 514.0 113.6 497.1 112.5M497.1 112.5C480.2 111.5 453.9 110.7 448.9 110.9M448.9 110.9C443.9 111.2 438.8 113.4 435.5 115.7M435.5 115.7C432.2 118.1 432.3 123.1 428.8 125.1M428.8 125.1C425.3 127.1 421.0 126.7 416.8 126.4M416.8 126.4C412.5 126.2 395.0 123.5 395.0 123.5M411.4 12.7C412.4 12.8 412.0 14.7 411.4 15.6M411.4 15.6C410.8 16.5 408.5 19.9 406.1 20.7M406.1 20.7C403.7 21.7 395.0 22.4 395.0 22.4M483.7 12.7C484.4 12.7 483.2 14.1 483.7 14.5M483.7 14.5C484.2 14.9 488.7 17.9 491.7 18.8M491.7 18.8C494.8 19.8 505.6 18.5 507.8 22.0M507.8 22.0C510.0 25.6 501.3 27.1 497.1 27.4M497.1 27.4C492.9 27.7 427.1 28.5 416.8 28.7M416.8 28.7C409.1 28.9 395.0 29.7 395.0 29.7M529.2 12.7C529.9 12.7 529.8 14.2 529.2 14.5M529.2 14.5C528.6 14.8 518.6 18.4 515.8 19.4M515.8 19.4C513.0 20.3 510.8 22.1 507.8 22.0M491.7 18.6C488.5 17.3 480.2 13.2 483.7 12.7M395.0 29.3C395.0 29.3 409.1 28.9 416.8 28.7M507.8 22.0C510.5 20.9 513.5 18.2 515.8 19.9M515.8 19.9C518.2 21.6 516.5 25.6 517.2 28.7M517.2 28.7C517.8 31.8 520.2 41.9 521.2 46.1M521.2 46.1C522.2 50.4 524.8 53.9 523.9 58.2M523.9 58.2C522.9 62.4 518.6 65.9 515.8 70.2M515.8 70.2C513.1 74.5 513.0 81.8 507.8 83.6M515.8 19.9C517.8 17.5 528.8 14.2 529.2 14.0M529.2 14.0C529.6 13.8 528.8 12.7 529.2 12.7M593.5 45.1C584.4 52.0 558.2 45.3 550.6 45.6M550.6 45.6C543.1 45.9 531.6 47.4 529.2 47.5M529.2 47.5C526.8 47.5 523.8 48.4 522.5 46.4M522.5 46.4C521.2 44.4 517.9 31.8 517.2 28.7M521.2 46.1C522.5 43.6 526.4 47.5 529.2 47.5M593.5 58.4C589.5 61.2 576.9 58.8 572.1 59.5M572.1 59.5C567.2 60.2 563.6 63.3 558.7 63.5M558.7 63.5C553.8 63.7 545.6 61.7 539.9 60.9M539.9 60.9C534.3 60.0 527.3 60.9 523.9 58.2M558.7 63.5C561.8 64.9 562.7 68.9 564.0 71.6M564.0 71.6C565.4 74.2 569.1 77.9 566.7 79.6M577.4 119.8C580.7 120.0 587.4 117.0 586.8 120.3M586.8 120.3C586.2 123.5 574.4 128.2 574.7 134.5M574.7 134.5C575.1 140.8 586.7 142.1 588.1 146.5M588.1 146.5C589.6 150.9 587.2 157.3 582.8 158.6M582.8 158.6C578.3 159.9 562.0 157.6 550.6 157.2M550.6 157.2C539.3 156.9 511.3 155.7 497.1 155.9M497.1 155.9C482.9 156.1 463.1 158.4 456.9 158.6M456.9 158.6C450.8 158.7 443.6 160.0 439.5 157.2M439.5 157.2C435.5 154.5 436.4 146.7 435.5 143.9M435.5 143.9C434.6 141.0 433.8 138.6 432.8 135.8M432.8 135.8C431.8 133.0 428.3 129.1 428.8 125.1M586.8 120.3C588.6 118.8 592.9 117.5 593.5 119.8M593.5 149.2C593.1 151.3 589.8 147.8 588.1 146.5M395.0 123.9C395.0 123.9 416.1 126.6 419.5 127.0M419.5 127.0C422.8 127.4 426.3 126.7 428.8 128.3M428.8 128.3C431.3 130.0 431.7 133.1 432.8 135.8M439.5 157.2C437.3 161.6 429.7 162.2 424.8 165.3M424.8 165.3C419.9 168.3 416.9 172.9 411.4 174.6M411.4 174.6C406.0 176.7 395.0 176.5 395.0 176.5M439.5 157.5C445.3 156.3 450.8 159.0 456.9 158.8M497.1 156.2C511.3 156.0 539.3 157.2 550.6 157.5M550.6 157.5C562.0 157.9 577.6 156.4 582.8 158.8M582.8 158.8C588.0 161.3 585.1 170.5 586.8 174.6M586.8 174.6C588.5 178.8 592.4 181.0 593.5 185.4M593.5 202.0C588.1 204.3 560.1 203.7 550.6 204.4M550.6 204.4C541.2 205.1 533.3 206.8 523.9 207.0M523.9 207.0C514.4 207.2 493.2 206.3 483.7 205.7M483.7 205.7C474.3 205.1 466.3 204.2 456.9 203.0M456.9 203.0C447.5 201.8 437.5 200.9 430.2 199.0M430.2 199.0C422.8 197.1 412.6 193.7 410.1 191.0M410.1 191.0C407.6 188.3 413.9 183.9 414.1 181.3M414.1 181.3C414.3 178.8 410.0 176.7 411.4 174.6M411.4 174.6C412.8 172.5 419.9 168.5 424.8 165.5M424.8 165.5C429.7 162.6 433.8 158.7 439.5 157.5M395.0 176.9C395.0 176.9 409.0 174.4 411.4 174.9M410.1 191.0C406.7 192.4 395.0 189.2 395.0 189.2M483.7 205.7C491.4 207.2 501.4 209.1 505.1 212.1M505.1 212.1C508.8 215.2 508.3 221.3 507.8 225.5M507.8 225.5C507.3 229.7 503.6 232.6 502.4 236.2M502.4 236.2C501.3 239.8 504.9 246.6 501.1 246.9M550.6 204.1C560.1 203.4 591.2 201.2 593.5 201.4M593.5 207.8C591.3 208.3 558.2 209.8 550.6 210.3M550.6 210.3C543.1 210.7 536.8 211.3 529.2 211.6M529.2 211.6C521.7 211.9 512.9 213.1 505.1 212.1M582.8 158.8C584.2 155.4 592.1 154.8 593.5 158.3M593.5 185.9C591.7 190.1 588.5 178.9 586.8 174.6M69.6 15.3C69.6 15.3 73.0 18.4 72.4 20.1C71.7 21.8 66.5 31.5 62.0 35.1C57.4 38.7 45.5 42.1 44.2 42.5C42.8 42.9 39.8 41.5 39.8 41.5"/>
<path id="crkd" d="M54.0 113.9C54.0 113.9 57.4 114.3 58.1 114.5C58.9 114.6 92.1 119.6 96.3 120.3C100.5 121.0 115.2 124.8 117.9 124.6C120.6 124.5 128.0 119.2 130.6 118.8C133.3 118.3 149.3 118.7 152.2 118.8C155.2 118.9 164.6 119.5 167.5 119.8C170.4 120.1 182.9 122.2 185.3 122.3C187.7 122.5 195.6 121.6 198.0 121.8C200.5 122.1 222.6 125.7 226.8 126.7C231.0 127.7 246.4 133.1 248.2 133.4C250.0 133.8 255.8 133.0 257.6 132.9C259.4 132.7 269.5 131.7 272.3 131.5C275.1 131.3 285.3 131.2 288.4 130.7C291.4 130.3 303.5 127.4 307.1 126.7C310.7 126.0 326.3 123.3 328.5 122.7C330.7 122.1 337.1 118.1 339.2 117.3C341.4 116.6 352.7 114.0 355.3 113.3C357.9 112.6 366.5 108.9 368.7 109.3C370.8 109.7 374.9 116.1 376.7 117.3C378.5 118.6 387.0 122.5 387.4 122.7C387.9 122.9 389.5 122.6 390.0 122.7C390.5 122.8 403.5 124.8 406.1 125.1C408.6 125.5 417.6 126.5 419.5 126.7C421.3 127.0 427.4 127.1 428.8 128.1C430.2 129.0 432.2 134.3 432.8 135.8C433.5 137.4 436.1 144.7 436.1 144.7"/>
<clipPath id="cd"><rect x="21" y="725.7" width="568" height="228"/></clipPath>
<clipPath id="cslate"><path d="M428.8 125.1C429.4 121.1 432.2 118.1 435.5 115.7C438.8 113.4 443.9 111.2 448.9 110.9C453.9 110.7 480.2 111.5 497.1 112.5C514.0 113.6 541.2 116.2 550.6 117.1C560.1 117.9 574.1 119.5 577.4 119.8C580.7 120.0 587.4 117.0 586.8 120.3C586.2 123.5 574.4 128.2 574.7 134.5C575.1 140.8 586.7 142.1 588.1 146.5C589.6 150.9 587.2 157.3 582.8 158.6C578.3 159.9 562.0 157.6 550.6 157.2C539.3 156.9 511.3 155.7 497.1 155.9C482.9 156.1 463.1 158.4 456.9 158.6C450.8 158.7 443.6 160.0 439.5 157.2C435.5 154.5 436.4 146.7 435.5 143.9C434.6 141.0 433.8 138.6 432.8 135.8C431.8 133.0 428.3 129.1 428.8 125.1Z" transform="matrix(1 0 0 0.968 -6 713.3)"/></clipPath>
<linearGradient id="dbase" gradientUnits="userSpaceOnUse" x1="21" y1="0" x2="589" y2="0">
<stop offset="0" stop-color="#0838cc"/><stop offset="0.25" stop-color="#0a48d6"/><stop offset="0.5" stop-color="#0c5cd8"/><stop offset="0.64" stop-color="#1080d0"/>
<stop offset="0.74" stop-color="#169cb8"/><stop offset="0.84" stop-color="#20ac90"/><stop offset="0.93" stop-color="#2ab47a"/><stop offset="1" stop-color="#30b872"/></linearGradient>
<linearGradient id="dlow" gradientUnits="userSpaceOnUse" x1="0" y1="860" x2="0" y2="954"><stop offset="0" stop-color="#0c70d4" stop-opacity="0"/><stop offset="0.35" stop-color="#0c74d4" stop-opacity="0.6"/><stop offset="1" stop-color="#0a60d4" stop-opacity="0.85"/></linearGradient>
<linearGradient id="dlowm" gradientUnits="userSpaceOnUse" x1="380" y1="0" x2="589" y2="0"><stop offset="0" stop-color="#fff" stop-opacity="0"/><stop offset="0.25" stop-color="#fff" stop-opacity="1"/><stop offset="0.7" stop-color="#fff" stop-opacity="0.75"/><stop offset="1" stop-color="#fff" stop-opacity="0.25"/></linearGradient>
<mask id="mdlow" maskUnits="userSpaceOnUse" x="20" y="720" width="570" height="240"><rect x="20" y="720" width="570" height="240" fill="url(#dlowm)"/></mask>
<radialGradient id="dhot" gradientUnits="userSpaceOnUse" cx="432.5" cy="849" r="37" gradientTransform="translate(432.5 849) scale(1 0.82) translate(-432.5 -849)">
<stop offset="0" stop-color="#8a0000"/><stop offset="0.1" stop-color="#d80800"/><stop offset="0.22" stop-color="#f84000"/><stop offset="0.36" stop-color="#f8a000"/><stop offset="0.5" stop-color="#e8d818" stop-opacity="0.95"/>
<stop offset="0.68" stop-color="#a8d838" stop-opacity="0.7"/><stop offset="0.85" stop-color="#70cc58" stop-opacity="0.35"/><stop offset="1" stop-color="#40bc68" stop-opacity="0"/></radialGradient>
<radialGradient id="dhalo" gradientUnits="userSpaceOnUse" cx="446" cy="846" r="50"><stop offset="0" stop-color="#c8e030" stop-opacity="0.55"/><stop offset="0.5" stop-color="#90d840" stop-opacity="0.35"/><stop offset="1" stop-color="#50c468" stop-opacity="0"/></radialGradient>
<filter id="d8" filterUnits="userSpaceOnUse" x="0" y="700" width="620" height="280"><feGaussianBlur stdDeviation="8"/></filter>
<filter id="d4" filterUnits="userSpaceOnUse" x="0" y="700" width="620" height="280"><feGaussianBlur stdDeviation="4"/></filter>
<filter id="d2" filterUnits="userSpaceOnUse" x="0" y="700" width="620" height="280"><feGaussianBlur stdDeviation="1.5"/></filter>
<filter id="d1" filterUnits="userSpaceOnUse" x="0" y="700" width="620" height="280"><feGaussianBlur stdDeviation="0.6"/></filter>
<filter id="da8" filterUnits="userSpaceOnUse" x="0" y="-20" width="620" height="300"><feGaussianBlur stdDeviation="8"/></filter>
<filter id="da4" filterUnits="userSpaceOnUse" x="0" y="-20" width="620" height="300"><feGaussianBlur stdDeviation="4"/></filter>
<filter id="da2" filterUnits="userSpaceOnUse" x="0" y="-20" width="620" height="300"><feGaussianBlur stdDeviation="1.5"/></filter>
<filter id="da1" filterUnits="userSpaceOnUse" x="0" y="-20" width="620" height="300"><feGaussianBlur stdDeviation="0.6"/></filter>
</defs>
<rect x="21" y="725.7" width="568" height="228" fill="url(#dbase)"/>
<g clip-path="url(#cd)">
<g filter="url(#d8)">
<path d="M21 725H60L52 800L21 815Z" fill="#0420b0" opacity="0.7"/>
<path d="M74 860L112 858L112 886L76 884Z" fill="#0424b4" opacity="0.7"/>
<path d="M21 915H50V954H21Z" fill="#0424b4" opacity="0.6"/>
<path d="M385 775L420 780L412 815L388 812Z" fill="#1690d8" opacity="0.6"/>
<path d="M230 870L330 865L340 954H240Z" fill="#0a44d0" opacity="0.5"/>
<path d="M500 725H589V830L540 820L505 780Z" fill="#2cb476" opacity="0.7"/>
<path d="M470 842L589 848V868L470 868Z" fill="#36b86c" opacity="0.75"/>
<path d="M420 780L500 770L520 830L440 832Z" fill="#18a8b4" opacity="0.55"/>
<path d="M580 800L589 800V954H575Z" fill="#30b878" opacity="0.7"/>
</g>
<rect x="21" y="855" width="568" height="100" fill="url(#dlow)" mask="url(#mdlow)"/>
<g transform="translate(0 -1) matrix(1 0 0 0.968 -6 713.3)" fill="none" stroke-linecap="round" stroke-linejoin="round">
<use href="#crkd" stroke="#1088e0" stroke-width="26" filter="url(#da8)" opacity="0.55"/>
<use href="#crkd" stroke="#1498dc" stroke-width="15" filter="url(#da4)" opacity="0.8"/>
<use href="#crkd" stroke="#48d098" stroke-width="6.5" filter="url(#da2)" opacity="0.95"/>
<use href="#crkd" stroke="#b4e828" stroke-width="3" filter="url(#da1)"/>
</g>
<path d="M364.5 817L357 798L374 796Z" fill="#0428b8" opacity="0.8" filter="url(#d4)"/>
<linearGradient id="dw1" gradientUnits="userSpaceOnUse" x1="70" y1="778" x2="36" y2="762"><stop offset="0" stop-color="#0420b0" stop-opacity="0.9"/><stop offset="1" stop-color="#0420b0" stop-opacity="0.1"/></linearGradient>
<linearGradient id="dw2" gradientUnits="userSpaceOnUse" x1="70" y1="778" x2="104" y2="794"><stop offset="0" stop-color="#1670e4" stop-opacity="0.75"/><stop offset="1" stop-color="#1670e4" stop-opacity="0"/></linearGradient>
<g filter="url(#d2)"><path d="M48 820.5L68 782L100 718L40 715L22 760L30 806Z" fill="url(#dw1)"/>
<path d="M48 820.5L68 782L100 718L135 725L112 806Z" fill="url(#dw2)"/>
<path d="M48 820.5L61 843L52 862L30 852L36 828Z" fill="#0424b4" opacity="0.55"/>
<path d="M48 821L61 843L78 836L72 826Z" fill="#1670e4" opacity="0.4"/></g>
<circle cx="46.5" cy="819.5" r="4" fill="#38a0e8" opacity="0.8" filter="url(#d2)"/>
<g clip-path="url(#cslate)"><rect x="425" y="790" width="130" height="110" fill="url(#dhalo)"/><rect x="380" y="790" width="160" height="110" fill="url(#dhot)"/></g>
<ellipse cx="452" cy="826" rx="26" ry="10" fill="#a8dc40" opacity="0.35" filter="url(#d4)"/>
<use href="#net" transform="matrix(1 0 0 0.968 -6 713.3)" fill="none" stroke="#0a0c1a" stroke-width="1.6" stroke-linecap="round"/>
<g transform="matrix(1 0 0 0.968 -6 713.3)"><use href="#crkd" fill="none" stroke="#10141c" stroke-width="1.2" opacity="0.85"/></g>
</g>
<text x="329" y="768.6" class="t" style="fill:#fff;font-size:22px">C<tspan class="sub" dy="4" style="font-size:14px">H</tspan><tspan dy="-4"> ≈ 4600 ppm</tspan></text>
<path d="M397 784L426 843.5" stroke="#fff" stroke-width="2" fill="none"/><path d="M429.4 850.8L419 840L430 834.8Z" fill="#fff"/>
</g>
<g id="pe"><defs>
<path id="crke" d="M37.0 111.7C37.0 111.7 54.1 113.9 58.1 114.5C62.2 115.0 92.1 119.6 96.3 120.3C100.5 121.0 115.2 124.8 117.9 124.6C120.6 124.5 128.0 119.2 130.6 118.8C133.3 118.3 149.3 118.7 152.2 118.8C155.2 118.9 164.6 119.5 167.5 119.8C170.4 120.1 182.9 122.2 185.3 122.3C187.7 122.5 195.6 121.6 198.0 121.8C200.5 122.1 222.6 125.7 226.8 126.7C231.0 127.7 246.4 133.1 248.2 133.4C250.0 133.8 255.8 133.0 257.6 132.9C259.4 132.7 269.5 131.7 272.3 131.5C275.1 131.3 285.3 131.2 288.4 130.7C291.4 130.3 303.5 127.4 307.1 126.7C310.7 126.0 326.3 123.3 328.5 122.7C330.7 122.1 337.1 118.1 339.2 117.3C341.4 116.6 352.7 114.0 355.3 113.3C357.9 112.6 366.5 108.9 368.7 109.3C370.8 109.7 374.9 116.1 376.7 117.3C378.5 118.6 387.0 122.5 387.4 122.7C387.9 122.9 389.5 122.6 390.0 122.7C390.5 122.8 403.5 124.8 406.1 125.1C408.6 125.5 417.6 126.5 419.5 126.7C421.3 127.0 427.4 127.1 428.8 128.1C430.2 129.0 432.2 134.3 432.8 135.8C433.5 137.4 436.1 144.7 436.1 144.7"/>
<clipPath id="ce"><rect x="20" y="961.2" width="568" height="228.8"/></clipPath>
<linearGradient id="eg" gradientUnits="userSpaceOnUse" x1="29" y1="0" x2="597" y2="0">
<stop offset="0" stop-color="#1c58cc"/><stop offset="0.18" stop-color="#1a78d0"/><stop offset="0.34" stop-color="#189cb8"/><stop offset="0.5" stop-color="#28b488"/>
<stop offset="0.64" stop-color="#60c458"/><stop offset="0.78" stop-color="#98cc38"/><stop offset="0.9" stop-color="#c0d028"/><stop offset="1" stop-color="#ccd024"/></linearGradient>
<linearGradient id="egc" gradientUnits="userSpaceOnUse" x1="46" y1="0" x2="445" y2="0">
<stop offset="0" stop-color="#30b890"/><stop offset="0.35" stop-color="#50c068"/><stop offset="0.55" stop-color="#68c858"/><stop offset="0.7" stop-color="#98cc38"/><stop offset="0.85" stop-color="#b8d030"/><stop offset="1" stop-color="#e8c018"/></linearGradient>
<radialGradient id="egt" gradientUnits="userSpaceOnUse" cx="437" cy="151" r="62"><stop offset="0" stop-color="#e82008"/><stop offset="0.14" stop-color="#f05808"/><stop offset="0.34" stop-color="#f0a810" stop-opacity="0.9"/><stop offset="0.65" stop-color="#d8d020" stop-opacity="0.5"/><stop offset="1" stop-color="#c0d028" stop-opacity="0"/></radialGradient>
<radialGradient id="egm" gradientUnits="userSpaceOnUse" cx="250" cy="130" r="190" gradientTransform="translate(250 130) scale(1 0.28) translate(-250 -130)"><stop offset="0" stop-color="#70c850" stop-opacity="0.9"/><stop offset="0.6" stop-color="#50c068" stop-opacity="0.6"/><stop offset="1" stop-color="#30b888" stop-opacity="0"/></radialGradient>
<filter id="e1" filterUnits="userSpaceOnUse" x="0" y="0" width="620" height="260"><feGaussianBlur stdDeviation="0.45"/></filter>
</defs>
<rect x="20" y="961.2" width="568" height="228.8" fill="#000"/>
<g clip-path="url(#ce)"><g transform="translate(-9 949.7)" fill="none" stroke-width="1.35" stroke-linecap="round" filter="url(#e1)">
<use href="#net" stroke="url(#eg)"/>
<use href="#net" stroke="url(#egm)"/>
<use href="#crke" stroke="url(#egc)"/>
<use href="#net" stroke="url(#egt)"/>
<path d="M226.8 147.9C226.8 147.9 235.7 143.6 240.2 142.5C244.7 141.5 260.9 139.6 266.9 138.5C273.0 137.4 285.7 134.2 285.7 134.2" stroke="#e8a818"/><path d="M356.6 101.0C356.6 101.0 362.2 103.9 363.9 105.0C365.5 106.1 368.7 109.0 368.7 109.0" stroke="#e86010"/>
</g></g></g>
<text x="41.5" y="42.3" class="t" fill="#fff" style="fill:#f4f4f4">a)</text>
<text x="40" y="283" class="t" fill="#fff" style="fill:#f4f4f4">b)</text>
<text x="41.2" y="516.6" class="t" fill="#fff" style="fill:#f4f4f4">c)</text>
<text x="40.6" y="752.5" class="t" fill="#fff" style="fill:#f4f4f4">d)</text>
<text x="41.2" y="987.5" class="t" fill="#fff" style="fill:#f4f4f4">e)</text>
<rect x="597" y="272" width="26" height="198.60000000000002" fill="url(#jet)"/><path d="M622 272.3H635M617 470.40000000000003H635" stroke="#222" stroke-width="1.3" fill="none"/><text x="635.5" y="280" class="t">440</text><text x="642.5" y="476.2" class="t">0</text>
<rect x="597" y="503.4" width="26" height="197.80000000000007" fill="url(#jet)"/><path d="M622 503.7H634.5M617 701.0H634.5" stroke="#222" stroke-width="1.3" fill="none"/><text x="641" y="510.6" class="t">0.03</text><text x="639.5" y="708.4" class="t">0</text>
<rect x="596" y="739.5" width="26" height="197.5" fill="url(#jet)"/><path d="M621 739.8H633M616 936.8H633" stroke="#222" stroke-width="1.3" fill="none"/><text x="640" y="746" class="t">1100</text><text x="640.5" y="945.5" class="t">810</text>
<rect x="597" y="974.5" width="26" height="198.0" fill="url(#jet)"/><path d="M622 974.8H634.5M617 1172.3H634.5" stroke="#222" stroke-width="1.3" fill="none"/><text x="640" y="982.8" class="t">320,000</text><text x="640" y="1178.4" class="t">260,000</text>
<text x="634" y="375.4" class="t">σ<tspan class="sub" dy="4">ST</tspan><tspan dy="-4">: (MPa)</tspan></text>
<text x="678.3" y="593.4" class="t" text-anchor="middle">γ<tspan class="sub" dy="4">sl</tspan><tspan dy="-4">:</tspan></text>
<text x="678.3" y="619.5" class="t" text-anchor="middle">Magnitude</text>
<text x="632" y="842.5" class="t">C<tspan class="sub" dy="4">H</tspan><tspan dy="-4">: (ppm)</tspan></text>
<text x="632.5" y="1076.4" class="t">C<tspan class="sub" dy="4">GB</tspan><tspan dy="-4">: (ppm)</tspan></text>
<g id="axes">
<circle cx="607.3" cy="22.3" r="9.8" fill="#4a0606"/>
<path d="M607.3 22.3H700" stroke="#1f9a2c" stroke-width="2.6" fill="none"/>
<path d="M607.3 22.3V115" stroke="#f2dc1c" stroke-width="2.4" fill="none"/>
<path d="M698.3 14.6L716 22.3L698.3 30.4Z" fill="#1fa51f" stroke="#14641a" stroke-width="1.4" stroke-linejoin="round"/>
<path d="M599.6 113.6L615.2 113.6L607.4 133.6Z" fill="#f0d012" stroke="#8e7a0a" stroke-width="1.4" stroke-linejoin="round"/>
<text transform="translate(719.8 32.4) scale(0.88 1)" class="s">L</text>
<text transform="translate(617.8 131.8) scale(0.9 1)" class="s">ST</text>
<defs>
<clipPath id="ipfc"><path d="M605.7 243.8L696.7 153.6Q709.5 196 710.2 243.8Z"/></clipPath>
<radialGradient id="ipfR" gradientUnits="userSpaceOnUse" cx="605.7" cy="243.8" r="116"><stop offset="0" stop-color="#f00"/><stop offset="0.5" stop-color="#f00"/><stop offset="0.67" stop-color="#c80000"/><stop offset="0.85" stop-color="#400000"/><stop offset="1" stop-color="#000"/></radialGradient>
<linearGradient id="ipfG" gradientUnits="userSpaceOnUse" x1="658.5" y1="191.7" x2="710.2" y2="243.8"><stop offset="0" stop-color="#000"/><stop offset="0.15" stop-color="#004000"/><stop offset="0.33" stop-color="#00c800"/><stop offset="0.5" stop-color="#00ff00"/><stop offset="0.8" stop-color="#00d800"/><stop offset="1" stop-color="#00a000"/></linearGradient>
<linearGradient id="ipfB" gradientUnits="userSpaceOnUse" x1="0" y1="243.8" x2="0" y2="153.6"><stop offset="0" stop-color="#000"/><stop offset="0.15" stop-color="#000040"/><stop offset="0.33" stop-color="#0000c8"/><stop offset="0.5" stop-color="#0000ff"/><stop offset="0.85" stop-color="#0000f0"/><stop offset="1" stop-color="#0000b0"/></linearGradient>
<radialGradient id="ipfW" gradientUnits="userSpaceOnUse" cx="669" cy="217" r="40"><stop offset="0" stop-color="#fff" stop-opacity="0.95"/><stop offset="0.3" stop-color="#fff" stop-opacity="0.6"/><stop offset="0.7" stop-color="#fff" stop-opacity="0.15"/><stop offset="1" stop-color="#fff" stop-opacity="0"/></radialGradient>
</defs>
<g clip-path="url(#ipfc)" style="isolation:isolate">
<rect x="600" y="150" width="115" height="96" fill="#000"/>
<rect x="600" y="150" width="115" height="96" fill="url(#ipfR)" style="mix-blend-mode:screen"/>
<rect x="600" y="150" width="115" height="96" fill="url(#ipfG)" style="mix-blend-mode:screen"/>
<rect x="600" y="150" width="115" height="96" fill="url(#ipfB)" style="mix-blend-mode:screen"/>
<rect x="600" y="150" width="115" height="96" fill="url(#ipfW)"/>
</g>
<text x="684.3" y="151" class="m">[111]</text>
<text x="591.8" y="254" class="m">[001]</text>
<text x="696.2" y="254" class="m">[101]</text>
</g>

</svg>
</body></html>
